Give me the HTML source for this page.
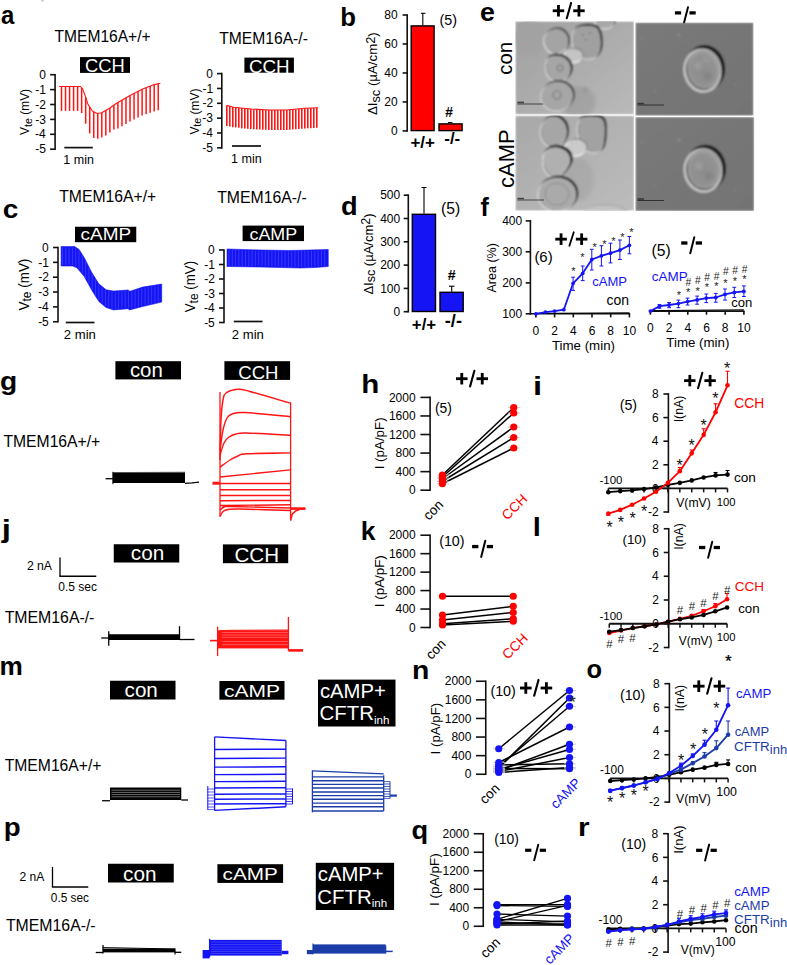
<!DOCTYPE html>
<html><head><meta charset="utf-8"><style>
html,body{margin:0;padding:0;background:#fff;}
svg{display:block;font-family:"Liberation Sans", sans-serif;}
</style></head><body>
<svg width="787" height="965" viewBox="0 0 787 965">
<rect width="787" height="965" fill="#fff"/>
<text x="1.04" y="24.24" font-size="25.00" textLength="13.31" lengthAdjust="spacingAndGlyphs" font-weight="bold" fill="#000">a</text>
<rect x="41.20" y="0.00" width="2.60" height="1.50" fill="#c8c8c8"/>
<text x="54.59" y="41.57" font-size="15.57" textLength="96.07" lengthAdjust="spacingAndGlyphs" fill="#000">TMEM16A+/+</text>
<rect x="80.00" y="57.10" width="50.00" height="15.80" fill="#000"/>
<text x="85.08" y="72.46" font-size="18.36" textLength="39.77" lengthAdjust="spacingAndGlyphs" fill="#fff">CCH</text>
<text x="219.19" y="43.94" font-size="15.65" textLength="88.67" lengthAdjust="spacingAndGlyphs" fill="#000">TMEM16A-/-</text>
<rect x="244.40" y="57.60" width="49.50" height="15.10" fill="#000"/>
<text x="248.96" y="72.91" font-size="18.80" textLength="40.73" lengthAdjust="spacingAndGlyphs" fill="#fff">CCH</text>
<line x1="55.10" y1="73.90" x2="55.10" y2="150.00" stroke="#111" stroke-width="1.6"/>
<line x1="50.10" y1="74.70" x2="55.10" y2="74.70" stroke="#111" stroke-width="1.6"/>
<text x="39.19" y="78.89" font-size="12.00" textLength="6.67" lengthAdjust="spacingAndGlyphs" fill="#000">0</text>
<line x1="50.10" y1="89.60" x2="55.10" y2="89.60" stroke="#111" stroke-width="1.6"/>
<text x="35.32" y="93.79" font-size="12.00" textLength="10.67" lengthAdjust="spacingAndGlyphs" fill="#000">-1</text>
<line x1="50.10" y1="104.50" x2="55.10" y2="104.50" stroke="#111" stroke-width="1.6"/>
<text x="35.32" y="108.69" font-size="12.00" textLength="10.67" lengthAdjust="spacingAndGlyphs" fill="#000">-2</text>
<line x1="50.10" y1="119.40" x2="55.10" y2="119.40" stroke="#111" stroke-width="1.6"/>
<text x="35.26" y="123.59" font-size="12.00" textLength="10.67" lengthAdjust="spacingAndGlyphs" fill="#000">-3</text>
<line x1="50.10" y1="134.30" x2="55.10" y2="134.30" stroke="#111" stroke-width="1.6"/>
<text x="35.08" y="138.49" font-size="12.00" textLength="10.67" lengthAdjust="spacingAndGlyphs" fill="#000">-4</text>
<line x1="50.10" y1="149.20" x2="55.10" y2="149.20" stroke="#111" stroke-width="1.6"/>
<text x="35.23" y="153.38" font-size="12.00" textLength="10.67" lengthAdjust="spacingAndGlyphs" fill="#000">-5</text>
<text transform="translate(29.20,134.90) rotate(-90)" font-size="12.20" fill="#000" textLength="46.00" lengthAdjust="spacingAndGlyphs"><tspan>V</tspan><tspan font-size="10.98" dy="2.60">te</tspan><tspan dy="-2.60"> (mV)</tspan></text>
<line x1="64.30" y1="147.60" x2="92.80" y2="147.60" stroke="#111" stroke-width="1.7"/>
<text x="63.36" y="164.12" font-size="12.48" textLength="30.52" lengthAdjust="spacingAndGlyphs" fill="#000">1 min</text>
<path d="M59.20,86.50 L80.40,86.50 L82.70,89.10 L85.00,95.20 L88.00,104.40 L92.60,111.30 L97.20,113.50 L101.70,112.80 L109.40,108.20 L117.40,102.70 L130.00,95.40 L142.60,89.10 L153.00,84.90 L160.40,83.20" stroke="#ff1414" stroke-width="1.1" fill="none" stroke-linejoin="round"/>
<line x1="61.50" y1="86.50" x2="61.50" y2="110.90" stroke="#ff1414" stroke-width="1.5"/>
<line x1="65.53" y1="86.50" x2="65.53" y2="110.90" stroke="#ff1414" stroke-width="1.5"/>
<line x1="69.56" y1="86.50" x2="69.56" y2="110.90" stroke="#ff1414" stroke-width="1.5"/>
<line x1="73.59" y1="86.50" x2="73.59" y2="110.90" stroke="#ff1414" stroke-width="1.5"/>
<line x1="77.62" y1="86.50" x2="77.62" y2="110.90" stroke="#ff1414" stroke-width="1.5"/>
<line x1="81.65" y1="87.91" x2="81.65" y2="113.05" stroke="#ff1414" stroke-width="1.5"/>
<line x1="85.68" y1="97.29" x2="85.68" y2="123.74" stroke="#ff1414" stroke-width="1.5"/>
<line x1="89.71" y1="106.97" x2="89.71" y2="133.41" stroke="#ff1414" stroke-width="1.5"/>
<line x1="93.74" y1="111.85" x2="93.74" y2="137.91" stroke="#ff1414" stroke-width="1.5"/>
<line x1="97.77" y1="113.41" x2="97.77" y2="138.69" stroke="#ff1414" stroke-width="1.5"/>
<line x1="101.80" y1="112.74" x2="101.80" y2="137.55" stroke="#ff1414" stroke-width="1.5"/>
<line x1="105.83" y1="110.33" x2="105.83" y2="135.60" stroke="#ff1414" stroke-width="1.5"/>
<line x1="109.86" y1="107.88" x2="109.86" y2="132.49" stroke="#ff1414" stroke-width="1.5"/>
<line x1="113.89" y1="105.11" x2="113.89" y2="129.61" stroke="#ff1414" stroke-width="1.5"/>
<line x1="117.92" y1="102.40" x2="117.92" y2="128.60" stroke="#ff1414" stroke-width="1.5"/>
<line x1="121.95" y1="100.06" x2="121.95" y2="126.26" stroke="#ff1414" stroke-width="1.5"/>
<line x1="125.98" y1="97.73" x2="125.98" y2="123.93" stroke="#ff1414" stroke-width="1.5"/>
<line x1="130.01" y1="95.39" x2="130.01" y2="121.59" stroke="#ff1414" stroke-width="1.5"/>
<line x1="134.04" y1="93.38" x2="134.04" y2="119.58" stroke="#ff1414" stroke-width="1.5"/>
<line x1="138.07" y1="91.36" x2="138.07" y2="117.56" stroke="#ff1414" stroke-width="1.5"/>
<line x1="142.10" y1="89.35" x2="142.10" y2="115.55" stroke="#ff1414" stroke-width="1.5"/>
<line x1="146.13" y1="87.67" x2="146.13" y2="114.13" stroke="#ff1414" stroke-width="1.5"/>
<line x1="150.16" y1="86.05" x2="150.16" y2="112.80" stroke="#ff1414" stroke-width="1.5"/>
<line x1="154.19" y1="84.63" x2="154.19" y2="111.46" stroke="#ff1414" stroke-width="1.5"/>
<line x1="158.22" y1="83.70" x2="158.22" y2="110.13" stroke="#ff1414" stroke-width="1.5"/>
<line x1="221.80" y1="72.80" x2="221.80" y2="148.65" stroke="#111" stroke-width="1.6"/>
<line x1="217.00" y1="73.60" x2="221.80" y2="73.60" stroke="#111" stroke-width="1.6"/>
<text x="206.29" y="77.78" font-size="12.00" textLength="6.67" lengthAdjust="spacingAndGlyphs" fill="#000">0</text>
<line x1="217.00" y1="88.45" x2="221.80" y2="88.45" stroke="#111" stroke-width="1.6"/>
<text x="202.42" y="92.63" font-size="12.00" textLength="10.67" lengthAdjust="spacingAndGlyphs" fill="#000">-1</text>
<line x1="217.00" y1="103.30" x2="221.80" y2="103.30" stroke="#111" stroke-width="1.6"/>
<text x="202.42" y="107.48" font-size="12.00" textLength="10.67" lengthAdjust="spacingAndGlyphs" fill="#000">-2</text>
<line x1="217.00" y1="118.15" x2="221.80" y2="118.15" stroke="#111" stroke-width="1.6"/>
<text x="202.36" y="122.33" font-size="12.00" textLength="10.67" lengthAdjust="spacingAndGlyphs" fill="#000">-3</text>
<line x1="217.00" y1="133.00" x2="221.80" y2="133.00" stroke="#111" stroke-width="1.6"/>
<text x="202.18" y="137.19" font-size="12.00" textLength="10.67" lengthAdjust="spacingAndGlyphs" fill="#000">-4</text>
<line x1="217.00" y1="147.85" x2="221.80" y2="147.85" stroke="#111" stroke-width="1.6"/>
<text x="202.33" y="152.03" font-size="12.00" textLength="10.67" lengthAdjust="spacingAndGlyphs" fill="#000">-5</text>
<text transform="translate(198.60,134.60) rotate(-90)" font-size="12.20" fill="#000" textLength="46.00" lengthAdjust="spacingAndGlyphs"><tspan>V</tspan><tspan font-size="10.98" dy="2.60">te</tspan><tspan dy="-2.60"> (mV)</tspan></text>
<line x1="232.00" y1="146.00" x2="261.00" y2="146.00" stroke="#111" stroke-width="1.7"/>
<text x="231.06" y="163.31" font-size="12.57" textLength="30.73" lengthAdjust="spacingAndGlyphs" fill="#000">1 min</text>
<path d="M226.60,105.40 L233.40,107.20 L251.20,109.00 L269.00,110.00 L286.70,110.00 L304.50,108.30 L317.90,107.70" stroke="#ff1414" stroke-width="1.1" fill="none" stroke-linejoin="round"/>
<line x1="226.80" y1="105.45" x2="226.80" y2="126.04" stroke="#ff1414" stroke-width="1.6"/>
<line x1="229.80" y1="106.25" x2="229.80" y2="126.61" stroke="#ff1414" stroke-width="1.6"/>
<line x1="232.80" y1="107.04" x2="232.80" y2="127.19" stroke="#ff1414" stroke-width="1.6"/>
<line x1="235.80" y1="107.44" x2="235.80" y2="127.54" stroke="#ff1414" stroke-width="1.6"/>
<line x1="238.80" y1="107.75" x2="238.80" y2="127.85" stroke="#ff1414" stroke-width="1.6"/>
<line x1="241.80" y1="108.05" x2="241.80" y2="128.15" stroke="#ff1414" stroke-width="1.6"/>
<line x1="244.80" y1="108.35" x2="244.80" y2="128.45" stroke="#ff1414" stroke-width="1.6"/>
<line x1="247.80" y1="108.66" x2="247.80" y2="128.76" stroke="#ff1414" stroke-width="1.6"/>
<line x1="250.80" y1="108.96" x2="250.80" y2="129.06" stroke="#ff1414" stroke-width="1.6"/>
<line x1="253.80" y1="109.15" x2="253.80" y2="129.23" stroke="#ff1414" stroke-width="1.6"/>
<line x1="256.80" y1="109.31" x2="256.80" y2="129.38" stroke="#ff1414" stroke-width="1.6"/>
<line x1="259.80" y1="109.48" x2="259.80" y2="129.53" stroke="#ff1414" stroke-width="1.6"/>
<line x1="262.80" y1="109.65" x2="262.80" y2="129.69" stroke="#ff1414" stroke-width="1.6"/>
<line x1="265.80" y1="109.82" x2="265.80" y2="129.84" stroke="#ff1414" stroke-width="1.6"/>
<line x1="268.80" y1="109.99" x2="268.80" y2="129.99" stroke="#ff1414" stroke-width="1.6"/>
<line x1="271.80" y1="110.00" x2="271.80" y2="130.00" stroke="#ff1414" stroke-width="1.6"/>
<line x1="274.80" y1="110.00" x2="274.80" y2="130.00" stroke="#ff1414" stroke-width="1.6"/>
<line x1="277.80" y1="110.00" x2="277.80" y2="130.00" stroke="#ff1414" stroke-width="1.6"/>
<line x1="280.80" y1="110.00" x2="280.80" y2="130.00" stroke="#ff1414" stroke-width="1.6"/>
<line x1="283.80" y1="110.00" x2="283.80" y2="130.00" stroke="#ff1414" stroke-width="1.6"/>
<line x1="286.80" y1="109.99" x2="286.80" y2="129.99" stroke="#ff1414" stroke-width="1.6"/>
<line x1="289.80" y1="109.70" x2="289.80" y2="129.74" stroke="#ff1414" stroke-width="1.6"/>
<line x1="292.80" y1="109.42" x2="292.80" y2="129.49" stroke="#ff1414" stroke-width="1.6"/>
<line x1="295.80" y1="109.13" x2="295.80" y2="129.23" stroke="#ff1414" stroke-width="1.6"/>
<line x1="298.80" y1="108.84" x2="298.80" y2="128.98" stroke="#ff1414" stroke-width="1.6"/>
<line x1="301.80" y1="108.56" x2="301.80" y2="128.73" stroke="#ff1414" stroke-width="1.6"/>
<line x1="304.80" y1="108.29" x2="304.80" y2="128.48" stroke="#ff1414" stroke-width="1.6"/>
<line x1="307.80" y1="108.15" x2="307.80" y2="128.33" stroke="#ff1414" stroke-width="1.6"/>
<line x1="310.80" y1="108.02" x2="310.80" y2="128.17" stroke="#ff1414" stroke-width="1.6"/>
<line x1="313.80" y1="107.88" x2="313.80" y2="128.01" stroke="#ff1414" stroke-width="1.6"/>
<line x1="316.80" y1="107.75" x2="316.80" y2="127.86" stroke="#ff1414" stroke-width="1.6"/>
<text x="340.33" y="25.56" font-size="25.00" textLength="15.73" lengthAdjust="spacingAndGlyphs" font-weight="bold" fill="#000">b</text>
<line x1="407.20" y1="14.20" x2="407.20" y2="131.72" stroke="#111" stroke-width="1.6"/>
<line x1="402.60" y1="15.00" x2="407.20" y2="15.00" stroke="#111" stroke-width="1.6"/>
<text x="384.33" y="19.19" font-size="12.00" textLength="13.35" lengthAdjust="spacingAndGlyphs" fill="#000">80</text>
<line x1="402.60" y1="43.98" x2="407.20" y2="43.98" stroke="#111" stroke-width="1.6"/>
<text x="384.33" y="48.17" font-size="12.00" textLength="13.35" lengthAdjust="spacingAndGlyphs" fill="#000">60</text>
<line x1="402.60" y1="72.96" x2="407.20" y2="72.96" stroke="#111" stroke-width="1.6"/>
<text x="384.33" y="77.15" font-size="12.00" textLength="13.35" lengthAdjust="spacingAndGlyphs" fill="#000">40</text>
<line x1="402.60" y1="101.94" x2="407.20" y2="101.94" stroke="#111" stroke-width="1.6"/>
<text x="384.33" y="106.12" font-size="12.00" textLength="13.35" lengthAdjust="spacingAndGlyphs" fill="#000">20</text>
<line x1="402.60" y1="130.92" x2="407.20" y2="130.92" stroke="#111" stroke-width="1.6"/>
<text x="390.99" y="135.11" font-size="12.00" textLength="6.67" lengthAdjust="spacingAndGlyphs" fill="#000">0</text>
<text transform="translate(377.30,115.10) rotate(-90)" font-size="13.00" fill="#000" textLength="82.90" lengthAdjust="spacingAndGlyphs"><tspan>ΔI</tspan><tspan font-size="12.60" dy="2.60">sc</tspan><tspan dy="-2.60"> (µA/cm</tspan><tspan font-size="12.60" dy="-2.40">2</tspan><tspan dy="2.40">)</tspan></text>
<line x1="422.80" y1="25.30" x2="422.80" y2="13.30" stroke="#000" stroke-width="1.1"/>
<line x1="420.90" y1="13.30" x2="425.40" y2="13.30" stroke="#000" stroke-width="1.1"/>
<rect x="411.20" y="25.90" width="22.90" height="104.70" fill="#ff0000" stroke="#000" stroke-width="1.4"/>
<rect x="439.00" y="123.90" width="23.10" height="6.70" fill="#ff0000" stroke="#000" stroke-width="1.4"/>
<line x1="447.90" y1="122.60" x2="452.40" y2="122.60" stroke="#000" stroke-width="1.1"/>
<text x="445.19" y="116.96" font-size="13.84" textLength="7.70" lengthAdjust="spacingAndGlyphs" font-weight="bold" fill="#000">#</text>
<text x="439.54" y="24.61" font-size="14.33" textLength="17.52" lengthAdjust="spacingAndGlyphs" fill="#000">(5)</text>
<text x="410.42" y="148.00" font-size="16.89" textLength="24.42" lengthAdjust="spacingAndGlyphs" font-weight="bold" fill="#000">+/+</text>
<text x="444.26" y="144.02" font-size="16.95" textLength="15.99" lengthAdjust="spacingAndGlyphs" font-weight="bold" fill="#000">-/-</text>
<text x="2.70" y="217.84" font-size="25.00" textLength="15.61" lengthAdjust="spacingAndGlyphs" font-weight="bold" fill="#000">c</text>
<text x="59.19" y="202.13" font-size="15.74" textLength="97.09" lengthAdjust="spacingAndGlyphs" fill="#000">TMEM16A+/+</text>
<rect x="75.00" y="226.75" width="61.25" height="15.45" fill="#000"/>
<text x="80.59" y="239.89" font-size="16.80" textLength="50.59" lengthAdjust="spacingAndGlyphs" fill="#fff">cAMP</text>
<line x1="58.00" y1="246.70" x2="58.00" y2="322.55" stroke="#111" stroke-width="1.6"/>
<line x1="53.00" y1="247.50" x2="58.00" y2="247.50" stroke="#111" stroke-width="1.6"/>
<text x="42.09" y="251.69" font-size="12.00" textLength="6.67" lengthAdjust="spacingAndGlyphs" fill="#000">0</text>
<line x1="53.00" y1="262.35" x2="58.00" y2="262.35" stroke="#111" stroke-width="1.6"/>
<text x="38.22" y="266.54" font-size="12.00" textLength="10.67" lengthAdjust="spacingAndGlyphs" fill="#000">-1</text>
<line x1="53.00" y1="277.20" x2="58.00" y2="277.20" stroke="#111" stroke-width="1.6"/>
<text x="38.22" y="281.38" font-size="12.00" textLength="10.67" lengthAdjust="spacingAndGlyphs" fill="#000">-2</text>
<line x1="53.00" y1="292.05" x2="58.00" y2="292.05" stroke="#111" stroke-width="1.6"/>
<text x="38.16" y="296.24" font-size="12.00" textLength="10.67" lengthAdjust="spacingAndGlyphs" fill="#000">-3</text>
<line x1="53.00" y1="306.90" x2="58.00" y2="306.90" stroke="#111" stroke-width="1.6"/>
<text x="37.98" y="311.08" font-size="12.00" textLength="10.67" lengthAdjust="spacingAndGlyphs" fill="#000">-4</text>
<line x1="53.00" y1="321.75" x2="58.00" y2="321.75" stroke="#111" stroke-width="1.6"/>
<text x="38.13" y="325.94" font-size="12.00" textLength="10.67" lengthAdjust="spacingAndGlyphs" fill="#000">-5</text>
<text transform="translate(28.50,310.50) rotate(-90)" font-size="14.00" fill="#000" textLength="51.80" lengthAdjust="spacingAndGlyphs"><tspan>V</tspan><tspan font-size="12.60" dy="2.98">te</tspan><tspan dy="-2.98"> (mV)</tspan></text>
<line x1="65.75" y1="322.50" x2="94.50" y2="322.50" stroke="#111" stroke-width="1.7"/>
<text x="63.85" y="339.49" font-size="13.08" textLength="31.98" lengthAdjust="spacingAndGlyphs" fill="#000">2 min</text>
<path d="M61.10,246.60 L74.70,246.60 L79.10,249.50 L84.20,257.50 L91.50,272.10 L98.80,283.80 L106.10,289.70 L113.50,291.10 L128.10,290.00 L129.50,291.10 L131.00,290.90 L142.70,287.10 L161.70,284.10 L161.70,302.10 L142.70,306.50 L129.50,309.90 L128.10,308.70 L113.50,309.90 L106.10,307.50 L98.80,301.40 L91.50,289.70 L84.20,276.50 L76.90,267.80 L72.50,266.00 L61.10,266.00 Z" stroke="#1414f5" stroke-width="0.6" fill="#1414f5" stroke-linejoin="round"/>
<line x1="62.50" y1="247.40" x2="62.50" y2="265.20" stroke="#5a5aff" stroke-width="0.5"/>
<line x1="65.80" y1="247.40" x2="65.80" y2="265.20" stroke="#5a5aff" stroke-width="0.5"/>
<line x1="69.10" y1="247.40" x2="69.10" y2="265.20" stroke="#5a5aff" stroke-width="0.5"/>
<line x1="72.40" y1="247.40" x2="72.40" y2="265.20" stroke="#5a5aff" stroke-width="0.5"/>
<line x1="75.70" y1="248.06" x2="75.70" y2="266.51" stroke="#5a5aff" stroke-width="0.5"/>
<line x1="79.00" y1="250.23" x2="79.00" y2="269.50" stroke="#5a5aff" stroke-width="0.5"/>
<line x1="82.30" y1="255.32" x2="82.30" y2="273.44" stroke="#5a5aff" stroke-width="0.5"/>
<line x1="85.60" y1="261.10" x2="85.60" y2="278.23" stroke="#5a5aff" stroke-width="0.5"/>
<line x1="88.90" y1="267.70" x2="88.90" y2="284.20" stroke="#5a5aff" stroke-width="0.5"/>
<line x1="92.20" y1="274.02" x2="92.20" y2="290.02" stroke="#5a5aff" stroke-width="0.5"/>
<line x1="95.50" y1="279.31" x2="95.50" y2="295.31" stroke="#5a5aff" stroke-width="0.5"/>
<line x1="98.80" y1="284.60" x2="98.80" y2="300.60" stroke="#5a5aff" stroke-width="0.5"/>
<line x1="102.10" y1="287.27" x2="102.10" y2="303.36" stroke="#5a5aff" stroke-width="0.5"/>
<line x1="105.40" y1="289.93" x2="105.40" y2="306.12" stroke="#5a5aff" stroke-width="0.5"/>
<line x1="108.70" y1="290.99" x2="108.70" y2="307.54" stroke="#5a5aff" stroke-width="0.5"/>
<line x1="112.00" y1="291.62" x2="112.00" y2="308.61" stroke="#5a5aff" stroke-width="0.5"/>
<line x1="115.30" y1="291.76" x2="115.30" y2="308.95" stroke="#5a5aff" stroke-width="0.5"/>
<line x1="118.60" y1="291.52" x2="118.60" y2="308.68" stroke="#5a5aff" stroke-width="0.5"/>
<line x1="121.90" y1="291.27" x2="121.90" y2="308.41" stroke="#5a5aff" stroke-width="0.5"/>
<line x1="125.20" y1="291.02" x2="125.20" y2="308.14" stroke="#5a5aff" stroke-width="0.5"/>
<line x1="128.50" y1="291.11" x2="128.50" y2="308.24" stroke="#5a5aff" stroke-width="0.5"/>
<line x1="131.80" y1="291.44" x2="131.80" y2="308.51" stroke="#5a5aff" stroke-width="0.5"/>
<line x1="135.10" y1="290.37" x2="135.10" y2="307.66" stroke="#5a5aff" stroke-width="0.5"/>
<line x1="138.40" y1="289.30" x2="138.40" y2="306.81" stroke="#5a5aff" stroke-width="0.5"/>
<line x1="141.70" y1="288.22" x2="141.70" y2="305.96" stroke="#5a5aff" stroke-width="0.5"/>
<line x1="145.00" y1="287.54" x2="145.00" y2="305.17" stroke="#5a5aff" stroke-width="0.5"/>
<line x1="148.30" y1="287.02" x2="148.30" y2="304.40" stroke="#5a5aff" stroke-width="0.5"/>
<line x1="151.60" y1="286.49" x2="151.60" y2="303.64" stroke="#5a5aff" stroke-width="0.5"/>
<line x1="154.90" y1="285.97" x2="154.90" y2="302.87" stroke="#5a5aff" stroke-width="0.5"/>
<line x1="158.20" y1="285.45" x2="158.20" y2="302.11" stroke="#5a5aff" stroke-width="0.5"/>
<text x="217.18" y="202.89" font-size="15.79" textLength="89.48" lengthAdjust="spacingAndGlyphs" fill="#000">TMEM16A-/-</text>
<rect x="242.60" y="225.60" width="61.40" height="15.50" fill="#000"/>
<text x="249.44" y="239.89" font-size="16.80" textLength="47.69" lengthAdjust="spacingAndGlyphs" fill="#fff">cAMP</text>
<line x1="224.00" y1="249.20" x2="224.00" y2="323.30" stroke="#111" stroke-width="1.6"/>
<line x1="219.00" y1="250.00" x2="224.00" y2="250.00" stroke="#111" stroke-width="1.6"/>
<text x="208.09" y="254.19" font-size="12.00" textLength="6.67" lengthAdjust="spacingAndGlyphs" fill="#000">0</text>
<line x1="219.00" y1="264.50" x2="224.00" y2="264.50" stroke="#111" stroke-width="1.6"/>
<text x="204.22" y="268.69" font-size="12.00" textLength="10.67" lengthAdjust="spacingAndGlyphs" fill="#000">-1</text>
<line x1="219.00" y1="279.00" x2="224.00" y2="279.00" stroke="#111" stroke-width="1.6"/>
<text x="204.22" y="283.19" font-size="12.00" textLength="10.67" lengthAdjust="spacingAndGlyphs" fill="#000">-2</text>
<line x1="219.00" y1="293.50" x2="224.00" y2="293.50" stroke="#111" stroke-width="1.6"/>
<text x="204.16" y="297.69" font-size="12.00" textLength="10.67" lengthAdjust="spacingAndGlyphs" fill="#000">-3</text>
<line x1="219.00" y1="308.00" x2="224.00" y2="308.00" stroke="#111" stroke-width="1.6"/>
<text x="203.98" y="312.19" font-size="12.00" textLength="10.67" lengthAdjust="spacingAndGlyphs" fill="#000">-4</text>
<line x1="219.00" y1="322.50" x2="224.00" y2="322.50" stroke="#111" stroke-width="1.6"/>
<text x="204.13" y="326.69" font-size="12.00" textLength="10.67" lengthAdjust="spacingAndGlyphs" fill="#000">-5</text>
<text transform="translate(195.00,312.30) rotate(-90)" font-size="14.00" fill="#000" textLength="51.40" lengthAdjust="spacingAndGlyphs"><tspan>V</tspan><tspan font-size="12.60" dy="2.98">te</tspan><tspan dy="-2.98"> (mV)</tspan></text>
<line x1="233.75" y1="321.50" x2="262.50" y2="321.50" stroke="#111" stroke-width="1.7"/>
<text x="231.85" y="339.12" font-size="13.08" textLength="31.98" lengthAdjust="spacingAndGlyphs" fill="#000">2 min</text>
<path d="M227.00,249.00 L260.00,250.00 L290.00,250.50 L310.00,250.00 L328.25,249.50 L328.25,266.50 L315.00,267.50 L300.00,268.00 L280.00,267.50 L260.00,267.00 L227.00,266.50 Z" stroke="#1414f5" stroke-width="0.6" fill="#1414f5" stroke-linejoin="round"/>
<line x1="229.00" y1="249.86" x2="229.00" y2="265.73" stroke="#5a5aff" stroke-width="0.5"/>
<line x1="232.30" y1="249.96" x2="232.30" y2="265.78" stroke="#5a5aff" stroke-width="0.5"/>
<line x1="235.60" y1="250.06" x2="235.60" y2="265.83" stroke="#5a5aff" stroke-width="0.5"/>
<line x1="238.90" y1="250.16" x2="238.90" y2="265.88" stroke="#5a5aff" stroke-width="0.5"/>
<line x1="242.20" y1="250.26" x2="242.20" y2="265.93" stroke="#5a5aff" stroke-width="0.5"/>
<line x1="245.50" y1="250.36" x2="245.50" y2="265.98" stroke="#5a5aff" stroke-width="0.5"/>
<line x1="248.80" y1="250.46" x2="248.80" y2="266.03" stroke="#5a5aff" stroke-width="0.5"/>
<line x1="252.10" y1="250.56" x2="252.10" y2="266.08" stroke="#5a5aff" stroke-width="0.5"/>
<line x1="255.40" y1="250.66" x2="255.40" y2="266.13" stroke="#5a5aff" stroke-width="0.5"/>
<line x1="258.70" y1="250.76" x2="258.70" y2="266.18" stroke="#5a5aff" stroke-width="0.5"/>
<line x1="262.00" y1="250.83" x2="262.00" y2="266.25" stroke="#5a5aff" stroke-width="0.5"/>
<line x1="265.30" y1="250.89" x2="265.30" y2="266.33" stroke="#5a5aff" stroke-width="0.5"/>
<line x1="268.60" y1="250.94" x2="268.60" y2="266.42" stroke="#5a5aff" stroke-width="0.5"/>
<line x1="271.90" y1="251.00" x2="271.90" y2="266.50" stroke="#5a5aff" stroke-width="0.5"/>
<line x1="275.20" y1="251.05" x2="275.20" y2="266.58" stroke="#5a5aff" stroke-width="0.5"/>
<line x1="278.50" y1="251.11" x2="278.50" y2="266.66" stroke="#5a5aff" stroke-width="0.5"/>
<line x1="281.80" y1="251.16" x2="281.80" y2="266.75" stroke="#5a5aff" stroke-width="0.5"/>
<line x1="285.10" y1="251.22" x2="285.10" y2="266.83" stroke="#5a5aff" stroke-width="0.5"/>
<line x1="288.40" y1="251.27" x2="288.40" y2="266.91" stroke="#5a5aff" stroke-width="0.5"/>
<line x1="291.70" y1="251.26" x2="291.70" y2="266.99" stroke="#5a5aff" stroke-width="0.5"/>
<line x1="295.00" y1="251.18" x2="295.00" y2="267.07" stroke="#5a5aff" stroke-width="0.5"/>
<line x1="298.30" y1="251.09" x2="298.30" y2="267.16" stroke="#5a5aff" stroke-width="0.5"/>
<line x1="301.60" y1="251.01" x2="301.60" y2="267.15" stroke="#5a5aff" stroke-width="0.5"/>
<line x1="304.90" y1="250.93" x2="304.90" y2="267.04" stroke="#5a5aff" stroke-width="0.5"/>
<line x1="308.20" y1="250.84" x2="308.20" y2="266.93" stroke="#5a5aff" stroke-width="0.5"/>
<line x1="311.50" y1="250.76" x2="311.50" y2="266.82" stroke="#5a5aff" stroke-width="0.5"/>
<line x1="314.80" y1="250.67" x2="314.80" y2="266.71" stroke="#5a5aff" stroke-width="0.5"/>
<line x1="318.10" y1="250.58" x2="318.10" y2="266.47" stroke="#5a5aff" stroke-width="0.5"/>
<line x1="321.40" y1="250.49" x2="321.40" y2="266.22" stroke="#5a5aff" stroke-width="0.5"/>
<line x1="324.70" y1="250.40" x2="324.70" y2="265.97" stroke="#5a5aff" stroke-width="0.5"/>
<text x="340.91" y="215.19" font-size="25.00" textLength="16.63" lengthAdjust="spacingAndGlyphs" font-weight="bold" fill="#000">d</text>
<line x1="408.30" y1="194.40" x2="408.30" y2="312.50" stroke="#111" stroke-width="1.6"/>
<line x1="403.70" y1="195.20" x2="408.30" y2="195.20" stroke="#111" stroke-width="1.6"/>
<text x="380.14" y="199.38" font-size="12.00" textLength="20.02" lengthAdjust="spacingAndGlyphs" fill="#000">500</text>
<line x1="403.70" y1="218.50" x2="408.30" y2="218.50" stroke="#111" stroke-width="1.6"/>
<text x="380.14" y="222.69" font-size="12.00" textLength="20.02" lengthAdjust="spacingAndGlyphs" fill="#000">400</text>
<line x1="403.70" y1="241.80" x2="408.30" y2="241.80" stroke="#111" stroke-width="1.6"/>
<text x="380.14" y="245.98" font-size="12.00" textLength="20.02" lengthAdjust="spacingAndGlyphs" fill="#000">300</text>
<line x1="403.70" y1="265.10" x2="408.30" y2="265.10" stroke="#111" stroke-width="1.6"/>
<text x="380.14" y="269.29" font-size="12.00" textLength="20.02" lengthAdjust="spacingAndGlyphs" fill="#000">200</text>
<line x1="403.70" y1="288.40" x2="408.30" y2="288.40" stroke="#111" stroke-width="1.6"/>
<text x="380.14" y="292.58" font-size="12.00" textLength="20.02" lengthAdjust="spacingAndGlyphs" fill="#000">100</text>
<line x1="403.70" y1="311.70" x2="408.30" y2="311.70" stroke="#111" stroke-width="1.6"/>
<text x="393.49" y="315.88" font-size="12.00" textLength="6.67" lengthAdjust="spacingAndGlyphs" fill="#000">0</text>
<text transform="translate(372.80,294.60) rotate(-90)" font-size="13.00" fill="#000" textLength="81.20" lengthAdjust="spacingAndGlyphs"><tspan>ΔI</tspan><tspan font-size="12.60" dy="2.60">sc</tspan><tspan dy="-2.60"> (µA/cm</tspan><tspan font-size="12.60" dy="-2.40">2</tspan><tspan dy="2.40">)</tspan></text>
<line x1="424.00" y1="213.75" x2="424.00" y2="187.50" stroke="#000" stroke-width="1.1"/>
<line x1="421.50" y1="187.50" x2="426.50" y2="187.50" stroke="#000" stroke-width="1.1"/>
<rect x="412.30" y="214.30" width="23.20" height="97.20" fill="#1414f5" stroke="#000" stroke-width="1.4"/>
<line x1="451.70" y1="291.75" x2="451.70" y2="286.25" stroke="#000" stroke-width="1.1"/>
<line x1="449.00" y1="286.25" x2="454.50" y2="286.25" stroke="#000" stroke-width="1.1"/>
<rect x="440.00" y="292.30" width="23.20" height="19.20" fill="#1414f5" stroke="#000" stroke-width="1.4"/>
<text x="447.79" y="280.33" font-size="14.22" textLength="7.91" lengthAdjust="spacingAndGlyphs" font-weight="bold" fill="#000">#</text>
<text x="441.06" y="214.17" font-size="15.65" textLength="19.12" lengthAdjust="spacingAndGlyphs" fill="#000">(5)</text>
<text x="411.83" y="330.05" font-size="16.82" textLength="24.32" lengthAdjust="spacingAndGlyphs" font-weight="bold" fill="#000">+/+</text>
<text x="444.82" y="326.90" font-size="18.16" textLength="17.14" lengthAdjust="spacingAndGlyphs" font-weight="bold" fill="#000">-/-</text>
<text x="479.99" y="21.09" font-size="25.00" textLength="14.91" lengthAdjust="spacingAndGlyphs" font-weight="bold" fill="#000">e</text>
<rect x="552.70" y="9.35" width="11.52" height="2.82" fill="#000"/>
<rect x="557.05" y="5.01" width="2.82" height="11.52" fill="#000"/>
<rect x="573.18" y="9.35" width="11.52" height="2.82" fill="#000"/>
<rect x="577.53" y="5.01" width="2.82" height="11.52" fill="#000"/>
<line x1="571.10" y1="2.92" x2="566.78" y2="18.28" stroke="#000" stroke-width="2.0749999999999997" stroke-linecap="round"/>
<rect x="674.90" y="11.28" width="6.24" height="3.23" fill="#000"/>
<rect x="689.46" y="11.28" width="6.24" height="3.23" fill="#000"/>
<line x1="688.00" y1="7.19" x2="683.95" y2="23.01" stroke="#000" stroke-width="1.955" stroke-linecap="round"/>
<text transform="rotate(-90)" x="-74.66" y="511.96" font-size="20.33" textLength="32.78" lengthAdjust="spacingAndGlyphs" fill="#000">con</text>
<text transform="rotate(-90)" x="-187.93" y="513.58" font-size="21.92" textLength="58.47" lengthAdjust="spacingAndGlyphs" fill="#000">cAMP</text>
<defs>
<filter id="bl" x="-5%" y="-5%" width="110%" height="110%"><feGaussianBlur stdDeviation="0.9"/></filter>
<filter id="bl6" x="-5%" y="-5%" width="110%" height="110%"><feGaussianBlur stdDeviation="0.6"/></filter>
<filter id="bl2" x="-20%" y="-20%" width="140%" height="140%"><feGaussianBlur stdDeviation="1.6"/></filter>
<linearGradient id="gL1" x1="0" y1="0" x2="1" y2="1"><stop offset="0" stop-color="#a0a0a0"/><stop offset="0.5" stop-color="#acacac"/><stop offset="1" stop-color="#bababa"/></linearGradient>
<linearGradient id="gL2" x1="0" y1="0" x2="1" y2="1"><stop offset="0" stop-color="#a8a8a8"/><stop offset="0.5" stop-color="#b2b2b2"/><stop offset="1" stop-color="#bcbcbc"/></linearGradient>
<linearGradient id="gR" x1="0" y1="0" x2="1" y2="1"><stop offset="0" stop-color="#7a7a7a"/><stop offset="1" stop-color="#737373"/></linearGradient>
<radialGradient id="cellR" cx="0.45" cy="0.55" r="0.6"><stop offset="0" stop-color="#8c8c8c"/><stop offset="0.8" stop-color="#939393"/><stop offset="1" stop-color="#a4a4a4"/></radialGradient>
<clipPath id="cTL"><rect x="515.3" y="21.3" width="118.7" height="93.3"/></clipPath>
<clipPath id="cTR"><rect x="635.3" y="22.4" width="118.3" height="93.4"/></clipPath>
<clipPath id="cBL"><rect x="515.3" y="115.6" width="118.9" height="95.2"/></clipPath>
<clipPath id="cBR"><rect x="635.3" y="116.9" width="118.9" height="94.2"/></clipPath>
</defs>
<g clip-path="url(#cTL)"><g filter="url(#bl)">
<rect x="515.30" y="21.30" width="118.70" height="93.30" fill="url(#gL1)"/>
<ellipse cx="578" cy="102" rx="18" ry="16" fill="#929292" filter="url(#bl2)" opacity="0.45"/>
<ellipse cx="530" cy="38" rx="16" ry="18" fill="#a2a2a2" filter="url(#bl2)" opacity="0.7"/>
<path d="M614.0,22.5 C614.0,23.3 613.7,24.2 613.1,24.9 C612.5,25.6 611.6,26.3 610.6,26.8 C609.6,27.3 608.3,27.7 607.0,27.9 C605.7,28.0 604.3,28.0 603.0,27.9 C601.7,27.7 600.4,27.3 599.4,26.8 C598.4,26.3 597.5,25.6 596.9,24.9 C596.3,24.2 596.0,23.3 596.0,22.5 C596.0,21.7 596.3,20.8 596.9,20.1 C597.5,19.4 598.4,18.7 599.4,18.2 C600.4,17.7 601.7,17.3 603.0,17.1 C604.3,17.0 605.7,17.0 607.0,17.1 C608.3,17.3 609.6,17.7 610.6,18.2 C611.6,18.7 612.5,19.4 613.1,20.1 C613.7,20.8 614.0,21.7 614.0,22.5 Z" transform="translate(0.9,-0.9)" fill="none" stroke="#666" stroke-width="1.4"/>
<path d="M614.0,22.5 C614.0,23.3 613.7,24.2 613.1,24.9 C612.5,25.6 611.6,26.3 610.6,26.8 C609.6,27.3 608.3,27.7 607.0,27.9 C605.7,28.0 604.3,28.0 603.0,27.9 C601.7,27.7 600.4,27.3 599.4,26.8 C598.4,26.3 597.5,25.6 596.9,24.9 C596.3,24.2 596.0,23.3 596.0,22.5 C596.0,21.7 596.3,20.8 596.9,20.1 C597.5,19.4 598.4,18.7 599.4,18.2 C600.4,17.7 601.7,17.3 603.0,17.1 C604.3,17.0 605.7,17.0 607.0,17.1 C608.3,17.3 609.6,17.7 610.6,18.2 C611.6,18.7 612.5,19.4 613.1,20.1 C613.7,20.8 614.0,21.7 614.0,22.5 Z" transform="translate(-0.9,0.9)" fill="none" stroke="#e0e0e0" stroke-width="1.4"/>
<path d="M614.0,22.5 C614.0,23.3 613.7,24.2 613.1,24.9 C612.5,25.6 611.6,26.3 610.6,26.8 C609.6,27.3 608.3,27.7 607.0,27.9 C605.7,28.0 604.3,28.0 603.0,27.9 C601.7,27.7 600.4,27.3 599.4,26.8 C598.4,26.3 597.5,25.6 596.9,24.9 C596.3,24.2 596.0,23.3 596.0,22.5 C596.0,21.7 596.3,20.8 596.9,20.1 C597.5,19.4 598.4,18.7 599.4,18.2 C600.4,17.7 601.7,17.3 603.0,17.1 C604.3,17.0 605.7,17.0 607.0,17.1 C608.3,17.3 609.6,17.7 610.6,18.2 C611.6,18.7 612.5,19.4 613.1,20.1 C613.7,20.8 614.0,21.7 614.0,22.5 Z" fill="#a8a8a8"/>
<path d="M568.2,41.0 C568.2,42.7 568.0,44.7 567.2,46.2 C566.5,47.7 565.0,49.0 563.6,50.0 C562.2,51.1 560.7,52.0 559.0,52.5 C557.4,53.0 555.4,53.2 553.7,52.8 C552.0,52.5 550.3,51.4 549.0,50.2 C547.8,49.1 546.8,47.5 546.1,46.0 C545.3,44.4 544.7,42.7 544.6,41.0 C544.5,39.3 544.8,37.3 545.6,35.8 C546.3,34.2 547.7,32.8 549.0,31.8 C550.4,30.8 552.2,30.1 553.8,29.7 C555.5,29.3 557.4,29.0 559.1,29.4 C560.7,29.7 562.4,30.7 563.8,31.8 C565.1,32.9 566.3,34.3 567.0,35.9 C567.8,37.4 568.2,39.3 568.2,41.0 Z" transform="translate(0.9,-0.9)" fill="none" stroke="#3a3a3a" stroke-width="2.0"/>
<path d="M568.2,41.0 C568.2,42.7 568.0,44.7 567.2,46.2 C566.5,47.7 565.0,49.0 563.6,50.0 C562.2,51.1 560.7,52.0 559.0,52.5 C557.4,53.0 555.4,53.2 553.7,52.8 C552.0,52.5 550.3,51.4 549.0,50.2 C547.8,49.1 546.8,47.5 546.1,46.0 C545.3,44.4 544.7,42.7 544.6,41.0 C544.5,39.3 544.8,37.3 545.6,35.8 C546.3,34.2 547.7,32.8 549.0,31.8 C550.4,30.8 552.2,30.1 553.8,29.7 C555.5,29.3 557.4,29.0 559.1,29.4 C560.7,29.7 562.4,30.7 563.8,31.8 C565.1,32.9 566.3,34.3 567.0,35.9 C567.8,37.4 568.2,39.3 568.2,41.0 Z" transform="translate(-0.9,0.9)" fill="none" stroke="#d8d8d8" stroke-width="1.5"/>
<path d="M568.2,41.0 C568.2,42.7 568.0,44.7 567.2,46.2 C566.5,47.7 565.0,49.0 563.6,50.0 C562.2,51.1 560.7,52.0 559.0,52.5 C557.4,53.0 555.4,53.2 553.7,52.8 C552.0,52.5 550.3,51.4 549.0,50.2 C547.8,49.1 546.8,47.5 546.1,46.0 C545.3,44.4 544.7,42.7 544.6,41.0 C544.5,39.3 544.8,37.3 545.6,35.8 C546.3,34.2 547.7,32.8 549.0,31.8 C550.4,30.8 552.2,30.1 553.8,29.7 C555.5,29.3 557.4,29.0 559.1,29.4 C560.7,29.7 562.4,30.7 563.8,31.8 C565.1,32.9 566.3,34.3 567.0,35.9 C567.8,37.4 568.2,39.3 568.2,41.0 Z" fill="#a4a4a4"/>
<path d="M575.0,30.0 C577.0,26.8 582.3,26.2 586.0,26.0 C589.7,25.8 594.6,26.2 597.0,28.5 C599.4,30.8 600.2,36.1 600.5,40.0 C600.8,43.9 600.4,49.0 599.0,52.0 C597.6,55.0 595.2,57.5 592.0,58.0 C588.8,58.5 583.0,57.2 580.0,55.0 C577.0,52.8 574.8,49.2 574.0,45.0 C573.2,40.8 573.0,33.2 575.0,30.0 Z" transform="translate(0.9,-0.9)" fill="none" stroke="#1e1e1e" stroke-width="2.6"/>
<path d="M575.0,30.0 C577.0,26.8 582.3,26.2 586.0,26.0 C589.7,25.8 594.6,26.2 597.0,28.5 C599.4,30.8 600.2,36.1 600.5,40.0 C600.8,43.9 600.4,49.0 599.0,52.0 C597.6,55.0 595.2,57.5 592.0,58.0 C588.8,58.5 583.0,57.2 580.0,55.0 C577.0,52.8 574.8,49.2 574.0,45.0 C573.2,40.8 573.0,33.2 575.0,30.0 Z" transform="translate(-0.9,0.9)" fill="none" stroke="#d0d0d0" stroke-width="1.6"/>
<path d="M575.0,30.0 C577.0,26.8 582.3,26.2 586.0,26.0 C589.7,25.8 594.6,26.2 597.0,28.5 C599.4,30.8 600.2,36.1 600.5,40.0 C600.8,43.9 600.4,49.0 599.0,52.0 C597.6,55.0 595.2,57.5 592.0,58.0 C588.8,58.5 583.0,57.2 580.0,55.0 C577.0,52.8 574.8,49.2 574.0,45.0 C573.2,40.8 573.0,33.2 575.0,30.0 Z" fill="#a0a0a0"/>
<path d="M582.3,55.5 C582.3,56.4 582.0,57.4 581.4,58.2 C580.9,59.0 580.0,59.8 579.0,60.3 C578.0,60.9 576.7,61.3 575.5,61.5 C574.2,61.7 572.8,61.7 571.5,61.5 C570.3,61.3 569.0,60.9 568.0,60.3 C567.0,59.8 566.1,59.0 565.6,58.2 C565.0,57.4 564.7,56.4 564.7,55.5 C564.7,54.6 565.0,53.6 565.6,52.8 C566.1,52.0 567.0,51.2 568.0,50.7 C569.0,50.1 570.3,49.7 571.5,49.5 C572.8,49.3 574.2,49.3 575.5,49.5 C576.7,49.7 578.0,50.1 579.0,50.7 C580.0,51.2 580.9,52.0 581.4,52.8 C582.0,53.6 582.3,54.6 582.3,55.5 Z" transform="translate(0.9,-0.9)" fill="none" stroke="#8a8a8a" stroke-width="1.6"/>
<path d="M582.3,55.5 C582.3,56.4 582.0,57.4 581.4,58.2 C580.9,59.0 580.0,59.8 579.0,60.3 C578.0,60.9 576.7,61.3 575.5,61.5 C574.2,61.7 572.8,61.7 571.5,61.5 C570.3,61.3 569.0,60.9 568.0,60.3 C567.0,59.8 566.1,59.0 565.6,58.2 C565.0,57.4 564.7,56.4 564.7,55.5 C564.7,54.6 565.0,53.6 565.6,52.8 C566.1,52.0 567.0,51.2 568.0,50.7 C569.0,50.1 570.3,49.7 571.5,49.5 C572.8,49.3 574.2,49.3 575.5,49.5 C576.7,49.7 578.0,50.1 579.0,50.7 C580.0,51.2 580.9,52.0 581.4,52.8 C582.0,53.6 582.3,54.6 582.3,55.5 Z" transform="translate(-0.9,0.9)" fill="none" stroke="#f6f6f6" stroke-width="1.6"/>
<path d="M582.3,55.5 C582.3,56.4 582.0,57.4 581.4,58.2 C580.9,59.0 580.0,59.8 579.0,60.3 C578.0,60.9 576.7,61.3 575.5,61.5 C574.2,61.7 572.8,61.7 571.5,61.5 C570.3,61.3 569.0,60.9 568.0,60.3 C567.0,59.8 566.1,59.0 565.6,58.2 C565.0,57.4 564.7,56.4 564.7,55.5 C564.7,54.6 565.0,53.6 565.6,52.8 C566.1,52.0 567.0,51.2 568.0,50.7 C569.0,50.1 570.3,49.7 571.5,49.5 C572.8,49.3 574.2,49.3 575.5,49.5 C576.7,49.7 578.0,50.1 579.0,50.7 C580.0,51.2 580.9,52.0 581.4,52.8 C582.0,53.6 582.3,54.6 582.3,55.5 Z" fill="#c4c4c4"/>
<path d="M549.0,58.0 C550.8,56.0 554.2,55.6 557.0,55.8 C559.8,56.0 563.8,57.1 566.0,59.0 C568.2,60.9 570.2,64.2 570.5,67.0 C570.8,69.8 569.8,73.8 568.0,76.0 C566.2,78.2 562.8,79.7 560.0,80.0 C557.2,80.3 553.2,80.0 551.0,78.0 C548.8,76.0 546.8,71.3 546.5,68.0 C546.2,64.7 547.2,60.0 549.0,58.0 Z" transform="translate(0.9,-0.9)" fill="none" stroke="#1a1a1a" stroke-width="2.5"/>
<path d="M549.0,58.0 C550.8,56.0 554.2,55.6 557.0,55.8 C559.8,56.0 563.8,57.1 566.0,59.0 C568.2,60.9 570.2,64.2 570.5,67.0 C570.8,69.8 569.8,73.8 568.0,76.0 C566.2,78.2 562.8,79.7 560.0,80.0 C557.2,80.3 553.2,80.0 551.0,78.0 C548.8,76.0 546.8,71.3 546.5,68.0 C546.2,64.7 547.2,60.0 549.0,58.0 Z" transform="translate(-0.9,0.9)" fill="none" stroke="#d4d4d4" stroke-width="1.5"/>
<path d="M549.0,58.0 C550.8,56.0 554.2,55.6 557.0,55.8 C559.8,56.0 563.8,57.1 566.0,59.0 C568.2,60.9 570.2,64.2 570.5,67.0 C570.8,69.8 569.8,73.8 568.0,76.0 C566.2,78.2 562.8,79.7 560.0,80.0 C557.2,80.3 553.2,80.0 551.0,78.0 C548.8,76.0 546.8,71.3 546.5,68.0 C546.2,64.7 547.2,60.0 549.0,58.0 Z" fill="#a6a6a6"/>
<path d="M572.7,93.3 C573.0,95.3 572.8,97.6 572.2,99.5 C571.5,101.5 570.3,103.5 568.8,105.1 C567.3,106.6 565.2,108.0 563.1,108.8 C561.0,109.7 558.5,110.1 556.3,110.0 C554.0,110.0 551.6,109.4 549.6,108.5 C547.7,107.5 545.8,106.0 544.5,104.4 C543.2,102.8 542.3,100.7 541.9,98.7 C541.6,96.7 541.8,94.4 542.4,92.5 C543.1,90.5 544.3,88.5 545.8,86.9 C547.3,85.4 549.4,84.0 551.5,83.2 C553.6,82.3 556.1,81.9 558.3,82.0 C560.6,82.0 563.0,82.6 565.0,83.5 C566.9,84.5 568.8,86.0 570.1,87.6 C571.4,89.2 572.3,91.3 572.7,93.3 Z" transform="translate(0.9,-0.9)" fill="none" stroke="#303030" stroke-width="2.2"/>
<path d="M572.7,93.3 C573.0,95.3 572.8,97.6 572.2,99.5 C571.5,101.5 570.3,103.5 568.8,105.1 C567.3,106.6 565.2,108.0 563.1,108.8 C561.0,109.7 558.5,110.1 556.3,110.0 C554.0,110.0 551.6,109.4 549.6,108.5 C547.7,107.5 545.8,106.0 544.5,104.4 C543.2,102.8 542.3,100.7 541.9,98.7 C541.6,96.7 541.8,94.4 542.4,92.5 C543.1,90.5 544.3,88.5 545.8,86.9 C547.3,85.4 549.4,84.0 551.5,83.2 C553.6,82.3 556.1,81.9 558.3,82.0 C560.6,82.0 563.0,82.6 565.0,83.5 C566.9,84.5 568.8,86.0 570.1,87.6 C571.4,89.2 572.3,91.3 572.7,93.3 Z" transform="translate(-0.9,0.9)" fill="none" stroke="#d0d0d0" stroke-width="1.5"/>
<path d="M572.7,93.3 C573.0,95.3 572.8,97.6 572.2,99.5 C571.5,101.5 570.3,103.5 568.8,105.1 C567.3,106.6 565.2,108.0 563.1,108.8 C561.0,109.7 558.5,110.1 556.3,110.0 C554.0,110.0 551.6,109.4 549.6,108.5 C547.7,107.5 545.8,106.0 544.5,104.4 C543.2,102.8 542.3,100.7 541.9,98.7 C541.6,96.7 541.8,94.4 542.4,92.5 C543.1,90.5 544.3,88.5 545.8,86.9 C547.3,85.4 549.4,84.0 551.5,83.2 C553.6,82.3 556.1,81.9 558.3,82.0 C560.6,82.0 563.0,82.6 565.0,83.5 C566.9,84.5 568.8,86.0 570.1,87.6 C571.4,89.2 572.3,91.3 572.7,93.3 Z" fill="#a6a6a6"/>
<circle cx="557" cy="95" r="4" fill="none" stroke="#7a7a7a" stroke-width="1.2"/><circle cx="560" cy="68" r="3" fill="none" stroke="#6a6a6a" stroke-width="1"/>
<g fill="#777"><circle cx="583" cy="35" r="1"/><circle cx="590" cy="33" r="1"/><circle cx="586" cy="40" r="1"/><circle cx="585" cy="88" r="0.8"/><circle cx="587" cy="90" r="0.8"/><circle cx="584" cy="91" r="0.8"/></g>
</g>
<line x1="517.30" y1="104.00" x2="543.20" y2="104.00" stroke="#111" stroke-width="0.7"/>
<rect x="517.30" y="101.60" width="6.70" height="1.70" fill="#444"/>
</g>
<g clip-path="url(#cTR)"><g filter="url(#bl)">
<rect x="635.30" y="22.40" width="118.30" height="93.40" fill="url(#gR)"/>
<ellipse cx="705.5" cy="67.6" rx="17.6" ry="20.8" transform="rotate(-10 705.5 67.6)" fill="none" stroke="#151515" stroke-width="3.8"/><ellipse cx="702.4" cy="70.7" rx="17.6" ry="20.8" transform="rotate(-10 702.4 70.7)" fill="none" stroke="#c4c4c4" stroke-width="2.8"/><ellipse cx="703.6" cy="69.3" rx="16.4" ry="19.6" transform="rotate(-10 703.6 69.3)" fill="url(#cellR)"/><ellipse cx="702.8" cy="70.1" rx="14.6" ry="17.8" transform="rotate(-10 703.6 69.3)" fill="none" stroke="#a8a8a8" stroke-width="1.2" opacity="0.8"/>
<g filter="url(#bl2)" opacity="0.6"><circle cx="698" cy="66" r="4" fill="#a4a4a4"/><circle cx="708" cy="76" r="4" fill="#7c7c7c"/><circle cx="706" cy="60" r="3" fill="#a0a0a0"/></g>
<g fill="#8a8a8a"><circle cx="679" cy="35" r="1.6"/><circle cx="642" cy="38" r="1"/><circle cx="655" cy="91" r="1"/><circle cx="735" cy="85" r="1"/></g>
</g>
<line x1="637.40" y1="105.00" x2="663.90" y2="105.00" stroke="#111" stroke-width="0.7"/>
<rect x="637.40" y="102.80" width="6.60" height="1.60" fill="#333"/>
</g>
<g clip-path="url(#cBL)"><g filter="url(#bl)">
<rect x="515.30" y="115.60" width="118.90" height="95.20" fill="url(#gL2)"/>
<ellipse cx="578" cy="180" rx="16" ry="22" fill="#9c9c9c" filter="url(#bl2)" opacity="0.4"/>
<path d="M566.8,131.5 C566.8,133.7 566.3,136.0 565.5,138.0 C564.7,139.9 563.4,141.8 562.0,143.1 C560.5,144.5 558.7,145.5 556.8,146.0 C555.0,146.5 553.0,146.5 551.2,146.0 C549.3,145.5 547.5,144.5 546.0,143.1 C544.6,141.8 543.3,139.9 542.5,138.0 C541.7,136.0 541.2,133.7 541.2,131.5 C541.2,129.3 541.7,127.0 542.5,125.0 C543.3,123.1 544.6,121.2 546.0,119.9 C547.5,118.5 549.3,117.5 551.2,117.0 C553.0,116.5 555.0,116.5 556.8,117.0 C558.7,117.5 560.5,118.5 562.0,119.9 C563.4,121.2 564.7,123.1 565.5,125.0 C566.3,127.0 566.8,129.3 566.8,131.5 Z" transform="translate(0.9,-0.9)" fill="none" stroke="#141414" stroke-width="2.8"/>
<path d="M566.8,131.5 C566.8,133.7 566.3,136.0 565.5,138.0 C564.7,139.9 563.4,141.8 562.0,143.1 C560.5,144.5 558.7,145.5 556.8,146.0 C555.0,146.5 553.0,146.5 551.2,146.0 C549.3,145.5 547.5,144.5 546.0,143.1 C544.6,141.8 543.3,139.9 542.5,138.0 C541.7,136.0 541.2,133.7 541.2,131.5 C541.2,129.3 541.7,127.0 542.5,125.0 C543.3,123.1 544.6,121.2 546.0,119.9 C547.5,118.5 549.3,117.5 551.2,117.0 C553.0,116.5 555.0,116.5 556.8,117.0 C558.7,117.5 560.5,118.5 562.0,119.9 C563.4,121.2 564.7,123.1 565.5,125.0 C566.3,127.0 566.8,129.3 566.8,131.5 Z" transform="translate(-0.9,0.9)" fill="none" stroke="#d0d0d0" stroke-width="1.8"/>
<path d="M566.8,131.5 C566.8,133.7 566.3,136.0 565.5,138.0 C564.7,139.9 563.4,141.8 562.0,143.1 C560.5,144.5 558.7,145.5 556.8,146.0 C555.0,146.5 553.0,146.5 551.2,146.0 C549.3,145.5 547.5,144.5 546.0,143.1 C544.6,141.8 543.3,139.9 542.5,138.0 C541.7,136.0 541.2,133.7 541.2,131.5 C541.2,129.3 541.7,127.0 542.5,125.0 C543.3,123.1 544.6,121.2 546.0,119.9 C547.5,118.5 549.3,117.5 551.2,117.0 C553.0,116.5 555.0,116.5 556.8,117.0 C558.7,117.5 560.5,118.5 562.0,119.9 C563.4,121.2 564.7,123.1 565.5,125.0 C566.3,127.0 566.8,129.3 566.8,131.5 Z" fill="#a6a6a6"/>
<path d="M580.0,120.0 C582.2,116.8 588.2,116.5 592.0,116.5 C595.8,116.5 600.9,117.1 603.0,120.0 C605.1,122.9 604.7,129.3 604.5,134.0 C604.3,138.7 603.8,145.0 602.0,148.0 C600.2,151.0 596.8,152.0 594.0,152.0 C591.2,152.0 587.5,150.7 585.0,148.0 C582.5,145.3 579.8,140.7 579.0,136.0 C578.2,131.3 577.8,123.2 580.0,120.0 Z" transform="translate(0.9,-0.9)" fill="none" stroke="#181818" stroke-width="2.8"/>
<path d="M580.0,120.0 C582.2,116.8 588.2,116.5 592.0,116.5 C595.8,116.5 600.9,117.1 603.0,120.0 C605.1,122.9 604.7,129.3 604.5,134.0 C604.3,138.7 603.8,145.0 602.0,148.0 C600.2,151.0 596.8,152.0 594.0,152.0 C591.2,152.0 587.5,150.7 585.0,148.0 C582.5,145.3 579.8,140.7 579.0,136.0 C578.2,131.3 577.8,123.2 580.0,120.0 Z" transform="translate(-0.9,0.9)" fill="none" stroke="#d0d0d0" stroke-width="1.8"/>
<path d="M580.0,120.0 C582.2,116.8 588.2,116.5 592.0,116.5 C595.8,116.5 600.9,117.1 603.0,120.0 C605.1,122.9 604.7,129.3 604.5,134.0 C604.3,138.7 603.8,145.0 602.0,148.0 C600.2,151.0 596.8,152.0 594.0,152.0 C591.2,152.0 587.5,150.7 585.0,148.0 C582.5,145.3 579.8,140.7 579.0,136.0 C578.2,131.3 577.8,123.2 580.0,120.0 Z" fill="#a2a2a2"/>
<path d="M586.0,147.5 C586.0,148.6 585.6,149.8 585.0,150.8 C584.4,151.7 583.4,152.7 582.2,153.4 C581.1,154.0 579.6,154.6 578.2,154.8 C576.8,155.1 575.2,155.1 573.8,154.8 C572.4,154.6 570.9,154.0 569.8,153.4 C568.6,152.7 567.6,151.7 567.0,150.8 C566.4,149.8 566.0,148.6 566.0,147.5 C566.0,146.4 566.4,145.2 567.0,144.2 C567.6,143.3 568.6,142.3 569.8,141.6 C570.9,141.0 572.4,140.4 573.8,140.2 C575.2,139.9 576.8,139.9 578.2,140.2 C579.6,140.4 581.1,141.0 582.2,141.6 C583.4,142.3 584.4,143.3 585.0,144.2 C585.6,145.2 586.0,146.4 586.0,147.5 Z" transform="translate(0.9,-0.9)" fill="none" stroke="#909090" stroke-width="1.6"/>
<path d="M586.0,147.5 C586.0,148.6 585.6,149.8 585.0,150.8 C584.4,151.7 583.4,152.7 582.2,153.4 C581.1,154.0 579.6,154.6 578.2,154.8 C576.8,155.1 575.2,155.1 573.8,154.8 C572.4,154.6 570.9,154.0 569.8,153.4 C568.6,152.7 567.6,151.7 567.0,150.8 C566.4,149.8 566.0,148.6 566.0,147.5 C566.0,146.4 566.4,145.2 567.0,144.2 C567.6,143.3 568.6,142.3 569.8,141.6 C570.9,141.0 572.4,140.4 573.8,140.2 C575.2,139.9 576.8,139.9 578.2,140.2 C579.6,140.4 581.1,141.0 582.2,141.6 C583.4,142.3 584.4,143.3 585.0,144.2 C585.6,145.2 586.0,146.4 586.0,147.5 Z" transform="translate(-0.9,0.9)" fill="none" stroke="#f8f8f8" stroke-width="1.6"/>
<path d="M586.0,147.5 C586.0,148.6 585.6,149.8 585.0,150.8 C584.4,151.7 583.4,152.7 582.2,153.4 C581.1,154.0 579.6,154.6 578.2,154.8 C576.8,155.1 575.2,155.1 573.8,154.8 C572.4,154.6 570.9,154.0 569.8,153.4 C568.6,152.7 567.6,151.7 567.0,150.8 C566.4,149.8 566.0,148.6 566.0,147.5 C566.0,146.4 566.4,145.2 567.0,144.2 C567.6,143.3 568.6,142.3 569.8,141.6 C570.9,141.0 572.4,140.4 573.8,140.2 C575.2,139.9 576.8,139.9 578.2,140.2 C579.6,140.4 581.1,141.0 582.2,141.6 C583.4,142.3 584.4,143.3 585.0,144.2 C585.6,145.2 586.0,146.4 586.0,147.5 Z" fill="#cacaca"/>
<path d="M546.0,152.0 C548.0,149.4 552.5,147.5 556.0,147.5 C559.5,147.5 564.7,149.8 567.0,152.0 C569.3,154.2 570.3,158.0 570.0,161.0 C569.7,164.0 567.0,167.5 565.0,170.0 C563.0,172.5 560.7,175.3 558.0,176.0 C555.3,176.7 551.3,176.2 549.0,174.0 C546.7,171.8 544.5,166.7 544.0,163.0 C543.5,159.3 544.0,154.6 546.0,152.0 Z" transform="translate(0.9,-0.9)" fill="none" stroke="#0a0a0a" stroke-width="3.6"/>
<path d="M546.0,152.0 C548.0,149.4 552.5,147.5 556.0,147.5 C559.5,147.5 564.7,149.8 567.0,152.0 C569.3,154.2 570.3,158.0 570.0,161.0 C569.7,164.0 567.0,167.5 565.0,170.0 C563.0,172.5 560.7,175.3 558.0,176.0 C555.3,176.7 551.3,176.2 549.0,174.0 C546.7,171.8 544.5,166.7 544.0,163.0 C543.5,159.3 544.0,154.6 546.0,152.0 Z" transform="translate(-0.9,0.9)" fill="none" stroke="#d8d8d8" stroke-width="1.8"/>
<path d="M546.0,152.0 C548.0,149.4 552.5,147.5 556.0,147.5 C559.5,147.5 564.7,149.8 567.0,152.0 C569.3,154.2 570.3,158.0 570.0,161.0 C569.7,164.0 567.0,167.5 565.0,170.0 C563.0,172.5 560.7,175.3 558.0,176.0 C555.3,176.7 551.3,176.2 549.0,174.0 C546.7,171.8 544.5,166.7 544.0,163.0 C543.5,159.3 544.0,154.6 546.0,152.0 Z" fill="#b0b0b0"/>
<path d="M576.1,194.0 C576.1,196.3 575.4,198.9 574.3,201.0 C573.1,203.1 571.2,205.2 569.1,206.7 C567.0,208.1 564.3,209.3 561.6,209.8 C559.0,210.3 556.0,210.3 553.4,209.8 C550.7,209.3 548.0,208.1 545.9,206.7 C543.8,205.2 541.9,203.1 540.7,201.0 C539.6,198.9 538.9,196.3 538.9,194.0 C538.9,191.7 539.6,189.1 540.7,187.0 C541.9,184.9 543.8,182.8 545.9,181.3 C548.0,179.9 550.7,178.7 553.4,178.2 C556.0,177.7 559.0,177.7 561.6,178.2 C564.3,178.7 567.0,179.9 569.1,181.3 C571.2,182.8 573.1,184.9 574.3,187.0 C575.4,189.1 576.1,191.7 576.1,194.0 Z" transform="translate(0.9,-0.9)" fill="none" stroke="#161616" stroke-width="2.8"/>
<path d="M576.1,194.0 C576.1,196.3 575.4,198.9 574.3,201.0 C573.1,203.1 571.2,205.2 569.1,206.7 C567.0,208.1 564.3,209.3 561.6,209.8 C559.0,210.3 556.0,210.3 553.4,209.8 C550.7,209.3 548.0,208.1 545.9,206.7 C543.8,205.2 541.9,203.1 540.7,201.0 C539.6,198.9 538.9,196.3 538.9,194.0 C538.9,191.7 539.6,189.1 540.7,187.0 C541.9,184.9 543.8,182.8 545.9,181.3 C548.0,179.9 550.7,178.7 553.4,178.2 C556.0,177.7 559.0,177.7 561.6,178.2 C564.3,178.7 567.0,179.9 569.1,181.3 C571.2,182.8 573.1,184.9 574.3,187.0 C575.4,189.1 576.1,191.7 576.1,194.0 Z" transform="translate(-0.9,0.9)" fill="none" stroke="#d4d4d4" stroke-width="1.8"/>
<path d="M576.1,194.0 C576.1,196.3 575.4,198.9 574.3,201.0 C573.1,203.1 571.2,205.2 569.1,206.7 C567.0,208.1 564.3,209.3 561.6,209.8 C559.0,210.3 556.0,210.3 553.4,209.8 C550.7,209.3 548.0,208.1 545.9,206.7 C543.8,205.2 541.9,203.1 540.7,201.0 C539.6,198.9 538.9,196.3 538.9,194.0 C538.9,191.7 539.6,189.1 540.7,187.0 C541.9,184.9 543.8,182.8 545.9,181.3 C548.0,179.9 550.7,178.7 553.4,178.2 C556.0,177.7 559.0,177.7 561.6,178.2 C564.3,178.7 567.0,179.9 569.1,181.3 C571.2,182.8 573.1,184.9 574.3,187.0 C575.4,189.1 576.1,191.7 576.1,194.0 Z" fill="#aaaaaa"/>
<ellipse cx="557" cy="194" rx="12" ry="11" fill="none" stroke="#8a8a8a" stroke-width="1"/>
<path d="M627.0,214.0 C627.0,215.2 626.2,216.4 624.8,217.5 C623.4,218.5 621.2,219.5 618.7,220.3 C616.2,221.0 613.0,221.5 609.9,221.8 C606.8,222.1 603.2,222.1 600.1,221.8 C597.0,221.5 593.8,221.0 591.3,220.3 C588.8,219.5 586.6,218.5 585.2,217.5 C583.8,216.4 583.0,215.2 583.0,214.0 C583.0,212.8 583.8,211.6 585.2,210.5 C586.6,209.5 588.8,208.5 591.3,207.7 C593.8,207.0 597.0,206.5 600.1,206.2 C603.2,205.9 606.8,205.9 609.9,206.2 C613.0,206.5 616.2,207.0 618.7,207.7 C621.2,208.5 623.4,209.5 624.8,210.5 C626.2,211.6 627.0,212.8 627.0,214.0 Z" transform="translate(0.9,-0.9)" fill="none" stroke="#aaa" stroke-width="1.4"/>
<path d="M627.0,214.0 C627.0,215.2 626.2,216.4 624.8,217.5 C623.4,218.5 621.2,219.5 618.7,220.3 C616.2,221.0 613.0,221.5 609.9,221.8 C606.8,222.1 603.2,222.1 600.1,221.8 C597.0,221.5 593.8,221.0 591.3,220.3 C588.8,219.5 586.6,218.5 585.2,217.5 C583.8,216.4 583.0,215.2 583.0,214.0 C583.0,212.8 583.8,211.6 585.2,210.5 C586.6,209.5 588.8,208.5 591.3,207.7 C593.8,207.0 597.0,206.5 600.1,206.2 C603.2,205.9 606.8,205.9 609.9,206.2 C613.0,206.5 616.2,207.0 618.7,207.7 C621.2,208.5 623.4,209.5 624.8,210.5 C626.2,211.6 627.0,212.8 627.0,214.0 Z" transform="translate(-0.9,0.9)" fill="none" stroke="#eee" stroke-width="1.4"/>
<path d="M627.0,214.0 C627.0,215.2 626.2,216.4 624.8,217.5 C623.4,218.5 621.2,219.5 618.7,220.3 C616.2,221.0 613.0,221.5 609.9,221.8 C606.8,222.1 603.2,222.1 600.1,221.8 C597.0,221.5 593.8,221.0 591.3,220.3 C588.8,219.5 586.6,218.5 585.2,217.5 C583.8,216.4 583.0,215.2 583.0,214.0 C583.0,212.8 583.8,211.6 585.2,210.5 C586.6,209.5 588.8,208.5 591.3,207.7 C593.8,207.0 597.0,206.5 600.1,206.2 C603.2,205.9 606.8,205.9 609.9,206.2 C613.0,206.5 616.2,207.0 618.7,207.7 C621.2,208.5 623.4,209.5 624.8,210.5 C626.2,211.6 627.0,212.8 627.0,214.0 Z" fill="#c4c4c4"/>
</g>
<line x1="517.40" y1="200.00" x2="543.90" y2="200.00" stroke="#111" stroke-width="0.7"/>
<rect x="517.40" y="197.80" width="6.60" height="1.50" fill="#444"/>
</g>
<g clip-path="url(#cBR)"><g filter="url(#bl)">
<rect x="635.30" y="116.90" width="118.90" height="94.20" fill="url(#gR)"/>
<ellipse cx="706.0" cy="167.5" rx="18.0" ry="20.9" transform="rotate(-8 706.0 167.5)" fill="none" stroke="#151515" stroke-width="3.8"/><ellipse cx="702.9" cy="170.6" rx="18.0" ry="20.9" transform="rotate(-8 702.9 170.6)" fill="none" stroke="#c4c4c4" stroke-width="2.8"/><ellipse cx="704.1" cy="169.2" rx="16.8" ry="19.7" transform="rotate(-8 704.1 169.2)" fill="url(#cellR)"/><ellipse cx="703.3" cy="170.0" rx="15.0" ry="17.9" transform="rotate(-8 704.1 169.2)" fill="none" stroke="#a8a8a8" stroke-width="1.2" opacity="0.8"/>
<g filter="url(#bl2)" opacity="0.6"><circle cx="699" cy="166" r="4" fill="#a4a4a4"/><circle cx="709" cy="176" r="4" fill="#7c7c7c"/></g>
<g fill="#8a8a8a"><circle cx="679" cy="140" r="1.6"/><circle cx="642" cy="142" r="1"/><circle cx="655" cy="186" r="1"/><circle cx="735" cy="190" r="1"/></g>
</g>
<line x1="637.40" y1="200.50" x2="663.90" y2="200.50" stroke="#111" stroke-width="0.7"/>
<rect x="637.40" y="198.30" width="6.60" height="1.50" fill="#333"/>
</g>
<text x="480.38" y="215.81" font-size="25.00" textLength="8.33" lengthAdjust="spacingAndGlyphs" font-weight="bold" fill="#000">f</text>
<line x1="530.40" y1="220.10" x2="530.40" y2="314.60" stroke="#111" stroke-width="1.6"/>
<line x1="525.70" y1="220.90" x2="530.40" y2="220.90" stroke="#111" stroke-width="1.6"/>
<text x="502.14" y="225.09" font-size="12.00" textLength="20.02" lengthAdjust="spacingAndGlyphs" fill="#000">400</text>
<line x1="525.70" y1="251.80" x2="530.40" y2="251.80" stroke="#111" stroke-width="1.6"/>
<text x="502.14" y="255.99" font-size="12.00" textLength="20.02" lengthAdjust="spacingAndGlyphs" fill="#000">300</text>
<line x1="525.70" y1="282.90" x2="530.40" y2="282.90" stroke="#111" stroke-width="1.6"/>
<text x="502.14" y="287.08" font-size="12.00" textLength="20.02" lengthAdjust="spacingAndGlyphs" fill="#000">200</text>
<line x1="525.70" y1="313.80" x2="530.40" y2="313.80" stroke="#111" stroke-width="1.6"/>
<text x="502.14" y="317.99" font-size="12.00" textLength="20.02" lengthAdjust="spacingAndGlyphs" fill="#000">100</text>
<text transform="translate(495.60,292.50) rotate(-90)" font-size="12.50" fill="#000"><tspan>Area (%)</tspan></text>
<line x1="529.60" y1="313.80" x2="630.20" y2="313.80" stroke="#111" stroke-width="1.6"/>
<line x1="535.90" y1="313.80" x2="535.90" y2="317.40" stroke="#111" stroke-width="1.6"/>
<text x="535.90" y="335.10" font-size="12.00" fill="#000" text-anchor="middle">0</text>
<line x1="554.60" y1="313.80" x2="554.60" y2="317.40" stroke="#111" stroke-width="1.6"/>
<text x="554.60" y="335.10" font-size="12.00" fill="#000" text-anchor="middle">2</text>
<line x1="573.30" y1="313.80" x2="573.30" y2="317.40" stroke="#111" stroke-width="1.6"/>
<text x="573.30" y="335.10" font-size="12.00" fill="#000" text-anchor="middle">4</text>
<line x1="592.00" y1="313.80" x2="592.00" y2="317.40" stroke="#111" stroke-width="1.6"/>
<text x="592.00" y="335.10" font-size="12.00" fill="#000" text-anchor="middle">6</text>
<line x1="610.70" y1="313.80" x2="610.70" y2="317.40" stroke="#111" stroke-width="1.6"/>
<text x="610.70" y="335.10" font-size="12.00" fill="#000" text-anchor="middle">8</text>
<line x1="629.40" y1="313.80" x2="629.40" y2="317.40" stroke="#111" stroke-width="1.6"/>
<text x="629.40" y="335.10" font-size="12.00" fill="#000" text-anchor="middle">10</text>
<text x="551.93" y="349.70" font-size="13.30" textLength="63.07" lengthAdjust="spacingAndGlyphs" fill="#000">Time (min)</text>
<rect x="555.30" y="237.73" width="11.56" height="2.83" fill="#000"/>
<rect x="559.66" y="233.37" width="2.83" height="11.56" fill="#000"/>
<rect x="575.84" y="237.73" width="11.56" height="2.83" fill="#000"/>
<rect x="580.21" y="233.37" width="2.83" height="11.56" fill="#000"/>
<line x1="573.76" y1="232.25" x2="569.42" y2="245.75" stroke="#000" stroke-width="1.8250000000000028" stroke-linecap="round"/>
<text x="534.40" y="261.57" font-size="14.97" textLength="18.29" lengthAdjust="spacingAndGlyphs" fill="#000">(6)</text>
<text x="592.24" y="286.30" font-size="13.06" textLength="34.83" lengthAdjust="spacingAndGlyphs" fill="#1414f5">cAMP</text>
<text x="606.41" y="305.00" font-size="13.95" textLength="22.50" lengthAdjust="spacingAndGlyphs" fill="#000">con</text>
<path d="M535.90,313.40 L629.40,312.80" stroke="#000" stroke-width="1.0" fill="none" stroke-linejoin="round"/>
<line x1="573.10" y1="277.20" x2="573.10" y2="290.40" stroke="#1414f5" stroke-width="1.0"/>
<line x1="571.20" y1="277.20" x2="575.00" y2="277.20" stroke="#1414f5" stroke-width="1.0"/>
<line x1="571.20" y1="290.40" x2="575.00" y2="290.40" stroke="#1414f5" stroke-width="1.0"/>
<line x1="582.70" y1="266.00" x2="582.70" y2="280.60" stroke="#1414f5" stroke-width="1.0"/>
<line x1="580.80" y1="266.00" x2="584.60" y2="266.00" stroke="#1414f5" stroke-width="1.0"/>
<line x1="580.80" y1="280.60" x2="584.60" y2="280.60" stroke="#1414f5" stroke-width="1.0"/>
<line x1="591.80" y1="249.30" x2="591.80" y2="270.00" stroke="#1414f5" stroke-width="1.0"/>
<line x1="589.90" y1="249.30" x2="593.70" y2="249.30" stroke="#1414f5" stroke-width="1.0"/>
<line x1="589.90" y1="270.00" x2="593.70" y2="270.00" stroke="#1414f5" stroke-width="1.0"/>
<line x1="601.40" y1="245.70" x2="601.40" y2="266.00" stroke="#1414f5" stroke-width="1.0"/>
<line x1="599.50" y1="245.70" x2="603.30" y2="245.70" stroke="#1414f5" stroke-width="1.0"/>
<line x1="599.50" y1="266.00" x2="603.30" y2="266.00" stroke="#1414f5" stroke-width="1.0"/>
<line x1="610.50" y1="243.20" x2="610.50" y2="262.90" stroke="#1414f5" stroke-width="1.0"/>
<line x1="608.60" y1="243.20" x2="612.40" y2="243.20" stroke="#1414f5" stroke-width="1.0"/>
<line x1="608.60" y1="262.90" x2="612.40" y2="262.90" stroke="#1414f5" stroke-width="1.0"/>
<line x1="619.90" y1="240.00" x2="619.90" y2="259.50" stroke="#1414f5" stroke-width="1.0"/>
<line x1="618.00" y1="240.00" x2="621.80" y2="240.00" stroke="#1414f5" stroke-width="1.0"/>
<line x1="618.00" y1="259.50" x2="621.80" y2="259.50" stroke="#1414f5" stroke-width="1.0"/>
<line x1="629.40" y1="236.50" x2="629.40" y2="253.80" stroke="#1414f5" stroke-width="1.0"/>
<line x1="627.50" y1="236.50" x2="631.30" y2="236.50" stroke="#1414f5" stroke-width="1.0"/>
<line x1="627.50" y1="253.80" x2="631.30" y2="253.80" stroke="#1414f5" stroke-width="1.0"/>
<path d="M535.90,313.80 L545.50,312.10 L554.60,311.10 L563.80,309.70 L573.10,283.30 L582.70,273.30 L591.80,259.50 L601.40,255.80 L610.50,253.20 L619.90,250.10 L629.40,245.30" stroke="#1414f5" stroke-width="1.8" fill="none" stroke-linejoin="round"/>
<circle cx="535.90" cy="313.80" r="1.9" fill="#1414f5"/>
<circle cx="545.50" cy="312.10" r="1.9" fill="#1414f5"/>
<circle cx="554.60" cy="311.10" r="1.9" fill="#1414f5"/>
<circle cx="563.80" cy="309.70" r="1.9" fill="#1414f5"/>
<circle cx="573.10" cy="283.30" r="1.9" fill="#1414f5"/>
<circle cx="582.70" cy="273.30" r="1.9" fill="#1414f5"/>
<circle cx="591.80" cy="259.50" r="1.9" fill="#1414f5"/>
<circle cx="601.40" cy="255.80" r="1.9" fill="#1414f5"/>
<circle cx="610.50" cy="253.20" r="1.9" fill="#1414f5"/>
<circle cx="619.90" cy="250.10" r="1.9" fill="#1414f5"/>
<circle cx="629.40" cy="245.30" r="1.9" fill="#1414f5"/>
<text x="573.30" y="275.04" font-size="11.05" fill="#222" text-anchor="middle">*</text>
<text x="582.50" y="261.24" font-size="11.05" fill="#222" text-anchor="middle">*</text>
<text x="594.70" y="250.54" font-size="11.05" fill="#222" text-anchor="middle">*</text>
<text x="604.50" y="248.14" font-size="11.05" fill="#222" text-anchor="middle">*</text>
<text x="613.50" y="245.14" font-size="11.05" fill="#222" text-anchor="middle">*</text>
<text x="622.50" y="240.64" font-size="11.05" fill="#222" text-anchor="middle">*</text>
<text x="631.50" y="235.94" font-size="11.05" fill="#222" text-anchor="middle">*</text>
<line x1="650.40" y1="311.10" x2="744.40" y2="311.10" stroke="#111" stroke-width="1.6"/>
<line x1="650.40" y1="311.10" x2="650.40" y2="314.70" stroke="#111" stroke-width="1.6"/>
<text x="650.40" y="332.40" font-size="12.00" fill="#000" text-anchor="middle">0</text>
<line x1="669.10" y1="311.10" x2="669.10" y2="314.70" stroke="#111" stroke-width="1.6"/>
<text x="669.10" y="332.40" font-size="12.00" fill="#000" text-anchor="middle">2</text>
<line x1="687.80" y1="311.10" x2="687.80" y2="314.70" stroke="#111" stroke-width="1.6"/>
<text x="687.80" y="332.40" font-size="12.00" fill="#000" text-anchor="middle">4</text>
<line x1="706.50" y1="311.10" x2="706.50" y2="314.70" stroke="#111" stroke-width="1.6"/>
<text x="706.50" y="332.40" font-size="12.00" fill="#000" text-anchor="middle">6</text>
<line x1="725.20" y1="311.10" x2="725.20" y2="314.70" stroke="#111" stroke-width="1.6"/>
<text x="725.20" y="332.40" font-size="12.00" fill="#000" text-anchor="middle">8</text>
<line x1="743.90" y1="311.10" x2="743.90" y2="314.70" stroke="#111" stroke-width="1.6"/>
<text x="743.90" y="332.40" font-size="12.00" fill="#000" text-anchor="middle">10</text>
<text x="666.33" y="347.00" font-size="13.30" textLength="63.07" lengthAdjust="spacingAndGlyphs" fill="#000">Time (min)</text>
<text x="651.46" y="256.41" font-size="15.69" textLength="19.18" lengthAdjust="spacingAndGlyphs" fill="#000">(5)</text>
<rect x="681.20" y="241.36" width="6.24" height="3.29" fill="#000"/>
<rect x="695.76" y="241.36" width="6.24" height="3.29" fill="#000"/>
<line x1="694.30" y1="237.20" x2="690.25" y2="253.30" stroke="#000" stroke-width="1.9895000000000014" stroke-linecap="round"/>
<text x="651.83" y="281.20" font-size="13.45" textLength="35.87" lengthAdjust="spacingAndGlyphs" fill="#1414f5">cAMP</text>
<text x="731.14" y="306.60" font-size="13.09" textLength="21.11" lengthAdjust="spacingAndGlyphs" fill="#000">con</text>
<path d="M650.40,310.60 L743.90,309.80" stroke="#000" stroke-width="1.0" fill="none" stroke-linejoin="round"/>
<line x1="659.50" y1="304.60" x2="659.50" y2="308.30" stroke="#1414f5" stroke-width="1.0"/>
<line x1="657.60" y1="304.60" x2="661.40" y2="304.60" stroke="#1414f5" stroke-width="1.0"/>
<line x1="657.60" y1="308.30" x2="661.40" y2="308.30" stroke="#1414f5" stroke-width="1.0"/>
<line x1="669.10" y1="302.60" x2="669.10" y2="307.70" stroke="#1414f5" stroke-width="1.0"/>
<line x1="667.20" y1="302.60" x2="671.00" y2="302.60" stroke="#1414f5" stroke-width="1.0"/>
<line x1="667.20" y1="307.70" x2="671.00" y2="307.70" stroke="#1414f5" stroke-width="1.0"/>
<line x1="678.40" y1="300.10" x2="678.40" y2="307.70" stroke="#1414f5" stroke-width="1.0"/>
<line x1="676.50" y1="300.10" x2="680.30" y2="300.10" stroke="#1414f5" stroke-width="1.0"/>
<line x1="676.50" y1="307.70" x2="680.30" y2="307.70" stroke="#1414f5" stroke-width="1.0"/>
<line x1="687.60" y1="298.10" x2="687.60" y2="305.00" stroke="#1414f5" stroke-width="1.0"/>
<line x1="685.70" y1="298.10" x2="689.50" y2="298.10" stroke="#1414f5" stroke-width="1.0"/>
<line x1="685.70" y1="305.00" x2="689.50" y2="305.00" stroke="#1414f5" stroke-width="1.0"/>
<line x1="697.10" y1="296.10" x2="697.10" y2="304.20" stroke="#1414f5" stroke-width="1.0"/>
<line x1="695.20" y1="296.10" x2="699.00" y2="296.10" stroke="#1414f5" stroke-width="1.0"/>
<line x1="695.20" y1="304.20" x2="699.00" y2="304.20" stroke="#1414f5" stroke-width="1.0"/>
<line x1="706.30" y1="294.00" x2="706.30" y2="302.60" stroke="#1414f5" stroke-width="1.0"/>
<line x1="704.40" y1="294.00" x2="708.20" y2="294.00" stroke="#1414f5" stroke-width="1.0"/>
<line x1="704.40" y1="302.60" x2="708.20" y2="302.60" stroke="#1414f5" stroke-width="1.0"/>
<line x1="715.80" y1="293.40" x2="715.80" y2="302.20" stroke="#1414f5" stroke-width="1.0"/>
<line x1="713.90" y1="293.40" x2="717.70" y2="293.40" stroke="#1414f5" stroke-width="1.0"/>
<line x1="713.90" y1="302.20" x2="717.70" y2="302.20" stroke="#1414f5" stroke-width="1.0"/>
<line x1="725.00" y1="289.00" x2="725.00" y2="300.10" stroke="#1414f5" stroke-width="1.0"/>
<line x1="723.10" y1="289.00" x2="726.90" y2="289.00" stroke="#1414f5" stroke-width="1.0"/>
<line x1="723.10" y1="300.10" x2="726.90" y2="300.10" stroke="#1414f5" stroke-width="1.0"/>
<line x1="734.30" y1="287.30" x2="734.30" y2="297.50" stroke="#1414f5" stroke-width="1.0"/>
<line x1="732.40" y1="287.30" x2="736.20" y2="287.30" stroke="#1414f5" stroke-width="1.0"/>
<line x1="732.40" y1="297.50" x2="736.20" y2="297.50" stroke="#1414f5" stroke-width="1.0"/>
<line x1="743.90" y1="285.90" x2="743.90" y2="296.50" stroke="#1414f5" stroke-width="1.0"/>
<line x1="742.00" y1="285.90" x2="745.80" y2="285.90" stroke="#1414f5" stroke-width="1.0"/>
<line x1="742.00" y1="296.50" x2="745.80" y2="296.50" stroke="#1414f5" stroke-width="1.0"/>
<path d="M650.40,311.10 L659.50,306.20 L669.10,305.00 L678.40,303.60 L687.60,301.60 L697.10,299.90 L706.30,298.10 L715.80,297.50 L725.00,294.40 L734.30,292.40 L743.90,291.40" stroke="#1414f5" stroke-width="1.8" fill="none" stroke-linejoin="round"/>
<circle cx="650.40" cy="311.10" r="1.9" fill="#1414f5"/>
<circle cx="659.50" cy="306.20" r="1.9" fill="#1414f5"/>
<circle cx="669.10" cy="305.00" r="1.9" fill="#1414f5"/>
<circle cx="678.40" cy="303.60" r="1.9" fill="#1414f5"/>
<circle cx="687.60" cy="301.60" r="1.9" fill="#1414f5"/>
<circle cx="697.10" cy="299.90" r="1.9" fill="#1414f5"/>
<circle cx="706.30" cy="298.10" r="1.9" fill="#1414f5"/>
<circle cx="715.80" cy="297.50" r="1.9" fill="#1414f5"/>
<circle cx="725.00" cy="294.40" r="1.9" fill="#1414f5"/>
<circle cx="734.30" cy="292.40" r="1.9" fill="#1414f5"/>
<circle cx="743.90" cy="291.40" r="1.9" fill="#1414f5"/>
<text x="678.90" y="298.54" font-size="11.05" fill="#222" text-anchor="middle">*</text>
<text x="688.10" y="295.94" font-size="11.05" fill="#222" text-anchor="middle">*</text>
<text x="697.60" y="294.54" font-size="11.05" fill="#222" text-anchor="middle">*</text>
<text x="706.80" y="291.44" font-size="11.05" fill="#222" text-anchor="middle">*</text>
<text x="716.30" y="289.84" font-size="11.05" fill="#222" text-anchor="middle">*</text>
<text x="725.50" y="287.34" font-size="11.05" fill="#222" text-anchor="middle">*</text>
<text x="734.80" y="285.34" font-size="11.05" fill="#222" text-anchor="middle">*</text>
<text x="744.40" y="282.74" font-size="11.05" fill="#222" text-anchor="middle">*</text>
<text x="688.40" y="286.40" font-size="10.29" fill="#222" text-anchor="middle">#</text>
<text x="697.90" y="284.30" font-size="10.29" fill="#222" text-anchor="middle">#</text>
<text x="707.10" y="281.30" font-size="10.29" fill="#222" text-anchor="middle">#</text>
<text x="716.60" y="279.70" font-size="10.29" fill="#222" text-anchor="middle">#</text>
<text x="725.80" y="274.60" font-size="10.29" fill="#222" text-anchor="middle">#</text>
<text x="735.10" y="273.60" font-size="10.29" fill="#222" text-anchor="middle">#</text>
<text x="744.70" y="272.50" font-size="10.29" fill="#222" text-anchor="middle">#</text>
<text x="0.12" y="389.69" font-size="25.00" textLength="17.24" lengthAdjust="spacingAndGlyphs" font-weight="bold" fill="#000">g</text>
<rect x="115.40" y="361.20" width="65.60" height="18.20" fill="#000"/>
<text x="129.93" y="377.23" font-size="20.40" textLength="32.89" lengthAdjust="spacingAndGlyphs" fill="#fff">con</text>
<rect x="224.40" y="361.20" width="65.70" height="18.70" fill="#000"/>
<text x="238.27" y="378.68" font-size="18.55" textLength="40.19" lengthAdjust="spacingAndGlyphs" fill="#fff">CCH</text>
<text x="3.44" y="447.16" font-size="15.70" textLength="96.83" lengthAdjust="spacingAndGlyphs" fill="#000">TMEM16A+/+</text>
<line x1="105.60" y1="478.70" x2="113.30" y2="478.70" stroke="#000" stroke-width="1.3"/>
<rect x="112.90" y="472.30" width="72.10" height="10.70" fill="#000"/>
<line x1="113.00" y1="472.60" x2="185.00" y2="472.20" stroke="#555" stroke-width="0.8"/>
<path d="M185.00,483.30 L192.00,482.90 L199.00,482.20" stroke="#000" stroke-width="1.3" fill="none" stroke-linejoin="round"/>
<line x1="112.90" y1="471.80" x2="112.90" y2="484.20" stroke="#000" stroke-width="1.0"/>
<line x1="212.50" y1="483.20" x2="220.00" y2="483.20" stroke="#ff1414" stroke-width="3.0"/>
<line x1="220.00" y1="392.00" x2="220.00" y2="516.70" stroke="#ff1414" stroke-width="1.3"/>
<line x1="290.60" y1="402.50" x2="290.60" y2="520.50" stroke="#ff1414" stroke-width="1.3"/>
<path d="M220.00,460.00 C220.17,453.33 220.50,430.00 221.00,420.00 C221.50,410.00 222.17,404.50 223.00,400.00 C223.83,395.50 223.50,394.78 226.00,393.00 C228.50,391.22 234.00,389.55 238.00,389.30 C242.00,389.05 241.23,389.17 250.00,391.50 C258.77,393.83 283.83,401.33 290.60,403.30" stroke="#ff1414" stroke-width="1.45" fill="none" stroke-linejoin="round"/>
<path d="M220.00,450.00 C220.50,446.67 221.83,435.33 223.00,430.00 C224.17,424.67 225.50,420.67 227.00,418.00 C228.50,415.33 229.00,414.92 232.00,414.00 C235.00,413.08 235.23,412.03 245.00,412.50 C254.77,412.97 283.00,416.08 290.60,416.80" stroke="#ff1414" stroke-width="1.45" fill="none" stroke-linejoin="round"/>
<path d="M220.00,455.00 C220.67,453.00 222.50,446.00 224.00,443.00 C225.50,440.00 227.00,438.50 229.00,437.00 C231.00,435.50 233.00,434.67 236.00,434.00 C239.00,433.33 237.90,432.78 247.00,433.00 C256.10,433.22 283.33,434.92 290.60,435.30" stroke="#ff1414" stroke-width="1.45" fill="none" stroke-linejoin="round"/>
<path d="M220.00,467.20 C221.67,466.00 227.00,461.87 230.00,460.00 C233.00,458.13 235.17,457.03 238.00,456.00 C240.83,454.97 238.23,454.32 247.00,453.80 C255.77,453.28 283.33,453.05 290.60,452.90" stroke="#ff1414" stroke-width="1.45" fill="none" stroke-linejoin="round"/>
<path d="M220.00,477.00 L290.60,469.90" stroke="#ff1414" stroke-width="1.45" fill="none" stroke-linejoin="round"/>
<path d="M220.00,483.40 L290.60,483.40" stroke="#ff1414" stroke-width="1.45" fill="none" stroke-linejoin="round"/>
<path d="M220.00,489.70 L290.60,489.70" stroke="#ff1414" stroke-width="1.45" fill="none" stroke-linejoin="round"/>
<path d="M220.00,495.40 L290.60,495.40" stroke="#ff1414" stroke-width="1.45" fill="none" stroke-linejoin="round"/>
<path d="M220.00,500.70 L290.60,500.40" stroke="#ff1414" stroke-width="1.45" fill="none" stroke-linejoin="round"/>
<path d="M220.00,505.50 L290.60,504.80" stroke="#ff1414" stroke-width="1.45" fill="none" stroke-linejoin="round"/>
<path d="M220.00,510.00 C220.67,509.50 222.33,507.58 224.00,507.00 C225.67,506.42 218.90,506.33 230.00,506.50 C241.10,506.67 280.50,507.75 290.60,508.00" stroke="#ff1414" stroke-width="1.45" fill="none" stroke-linejoin="round"/>
<path d="M220.00,516.50 C220.50,515.67 221.67,512.67 223.00,511.50 C224.33,510.33 225.17,509.92 228.00,509.50 C230.83,509.08 229.57,508.83 240.00,509.00 C250.43,509.17 282.17,510.25 290.60,510.50" stroke="#ff1414" stroke-width="1.45" fill="none" stroke-linejoin="round"/>
<line x1="290.60" y1="508.60" x2="305.40" y2="508.60" stroke="#ff1414" stroke-width="2.6"/>
<path d="M290.60,520.50 L292.50,514.00 L296.00,511.00 L300.00,509.50 L305.40,508.60" stroke="#ff1414" stroke-width="1.2" fill="none" stroke-linejoin="round"/>
<path d="M290.60,516.00 L294.00,511.50 L299.00,509.50" stroke="#ff1414" stroke-width="1.0" fill="none" stroke-linejoin="round"/>
<text x="1.83" y="537.72" font-size="25.00" textLength="9.16" lengthAdjust="spacingAndGlyphs" font-weight="bold" fill="#000">j</text>
<rect x="113.75" y="544.25" width="65.50" height="18.25" fill="#000"/>
<text x="130.82" y="560.47" font-size="20.73" textLength="33.43" lengthAdjust="spacingAndGlyphs" fill="#fff">con</text>
<rect x="222.90" y="544.40" width="65.30" height="18.80" fill="#000"/>
<text x="234.47" y="562.17" font-size="20.56" textLength="44.55" lengthAdjust="spacingAndGlyphs" fill="#fff">CCH</text>
<line x1="60.00" y1="557.50" x2="60.00" y2="576.25" stroke="#000" stroke-width="1.3"/>
<line x1="59.35" y1="576.25" x2="96.25" y2="576.25" stroke="#000" stroke-width="1.3"/>
<text x="26.89" y="569.96" font-size="12.22" textLength="25.14" lengthAdjust="spacingAndGlyphs" fill="#000">2 nA</text>
<text x="58.30" y="591.13" font-size="12.02" textLength="38.74" lengthAdjust="spacingAndGlyphs" fill="#000">0.5 sec</text>
<text x="4.68" y="622.56" font-size="15.83" textLength="89.73" lengthAdjust="spacingAndGlyphs" fill="#000">TMEM16A-/-</text>
<line x1="101.25" y1="638.00" x2="108.75" y2="638.00" stroke="#000" stroke-width="1.3"/>
<line x1="108.75" y1="631.25" x2="108.75" y2="645.75" stroke="#000" stroke-width="1.3"/>
<rect x="108.75" y="634.25" width="70.75" height="5.75" fill="#000"/>
<line x1="179.50" y1="626.25" x2="179.50" y2="640.00" stroke="#000" stroke-width="1.3"/>
<line x1="179.50" y1="639.50" x2="194.50" y2="639.50" stroke="#000" stroke-width="1.3"/>
<line x1="209.90" y1="640.60" x2="217.60" y2="640.60" stroke="#ff1414" stroke-width="1.6"/>
<line x1="217.60" y1="626.70" x2="217.60" y2="656.10" stroke="#ff1414" stroke-width="1.3"/>
<rect x="217.60" y="630.30" width="70.80" height="18.10" fill="#ff1414"/>
<line x1="222.00" y1="632.50" x2="288.00" y2="632.50" stroke="#ff9090" stroke-width="0.5"/>
<line x1="222.00" y1="635.00" x2="288.00" y2="635.00" stroke="#ff9090" stroke-width="0.5"/>
<line x1="222.00" y1="637.30" x2="288.00" y2="637.30" stroke="#ff9090" stroke-width="0.5"/>
<line x1="222.00" y1="641.50" x2="288.00" y2="641.50" stroke="#ff9090" stroke-width="0.5"/>
<line x1="222.00" y1="644.60" x2="288.00" y2="644.60" stroke="#ff9090" stroke-width="0.5"/>
<path d="M217.60,632.00 L221.00,630.60 L230.00,630.30 L288.40,630.00" stroke="#ff1414" stroke-width="1.0" fill="none" stroke-linejoin="round"/>
<line x1="288.40" y1="617.00" x2="288.40" y2="650.80" stroke="#ff1414" stroke-width="1.3"/>
<line x1="288.40" y1="650.40" x2="303.00" y2="650.40" stroke="#ff1414" stroke-width="2.6"/>
<text x="361.26" y="393.19" font-size="25.00" textLength="18.04" lengthAdjust="spacingAndGlyphs" font-weight="bold" fill="#000">h</text>
<rect x="456.00" y="377.31" width="11.52" height="2.82" fill="#000"/>
<rect x="460.35" y="372.96" width="2.82" height="11.52" fill="#000"/>
<rect x="476.48" y="377.31" width="11.52" height="2.82" fill="#000"/>
<rect x="480.83" y="372.96" width="2.82" height="11.52" fill="#000"/>
<line x1="474.40" y1="370.73" x2="470.08" y2="386.37" stroke="#000" stroke-width="2.112499999999997" stroke-linecap="round"/>
<line x1="430.10" y1="396.60" x2="430.10" y2="491.00" stroke="#111" stroke-width="1.6"/>
<line x1="420.40" y1="397.40" x2="430.10" y2="397.40" stroke="#111" stroke-width="1.6"/>
<text x="388.88" y="401.58" font-size="12.00" textLength="26.70" lengthAdjust="spacingAndGlyphs" fill="#000">2000</text>
<line x1="420.40" y1="415.96" x2="430.10" y2="415.96" stroke="#111" stroke-width="1.6"/>
<text x="388.88" y="420.14" font-size="12.00" textLength="26.70" lengthAdjust="spacingAndGlyphs" fill="#000">1600</text>
<line x1="420.40" y1="434.52" x2="430.10" y2="434.52" stroke="#111" stroke-width="1.6"/>
<text x="388.88" y="438.70" font-size="12.00" textLength="26.70" lengthAdjust="spacingAndGlyphs" fill="#000">1200</text>
<line x1="420.40" y1="453.08" x2="430.10" y2="453.08" stroke="#111" stroke-width="1.6"/>
<text x="395.54" y="457.26" font-size="12.00" textLength="20.02" lengthAdjust="spacingAndGlyphs" fill="#000">800</text>
<line x1="420.40" y1="471.64" x2="430.10" y2="471.64" stroke="#111" stroke-width="1.6"/>
<text x="395.54" y="475.82" font-size="12.00" textLength="20.02" lengthAdjust="spacingAndGlyphs" fill="#000">400</text>
<line x1="420.40" y1="490.20" x2="430.10" y2="490.20" stroke="#111" stroke-width="1.6"/>
<text x="408.89" y="494.38" font-size="12.00" textLength="6.67" lengthAdjust="spacingAndGlyphs" fill="#000">0</text>
<text transform="rotate(-90)" x="-469.30" y="384.45" font-size="13.34" textLength="51.90" lengthAdjust="spacingAndGlyphs" fill="#000">I (pA/pF)</text>
<text x="434.97" y="413.04" font-size="13.88" textLength="16.96" lengthAdjust="spacingAndGlyphs" fill="#000">(5)</text>
<line x1="442.40" y1="475.00" x2="513.75" y2="407.50" stroke="#000" stroke-width="1.5"/>
<line x1="442.40" y1="477.00" x2="513.75" y2="413.00" stroke="#000" stroke-width="1.5"/>
<line x1="442.40" y1="478.75" x2="513.75" y2="427.00" stroke="#000" stroke-width="1.5"/>
<line x1="442.40" y1="481.25" x2="513.75" y2="437.50" stroke="#000" stroke-width="1.5"/>
<line x1="442.40" y1="483.75" x2="513.75" y2="448.00" stroke="#000" stroke-width="1.5"/>
<line x1="508.00" y1="407.50" x2="520.50" y2="407.50" stroke="#c4c4c4" stroke-width="0.8"/>
<line x1="508.00" y1="413.00" x2="520.50" y2="413.00" stroke="#c4c4c4" stroke-width="0.8"/>
<line x1="508.00" y1="427.00" x2="520.50" y2="427.00" stroke="#c4c4c4" stroke-width="0.8"/>
<line x1="508.00" y1="437.50" x2="520.50" y2="437.50" stroke="#c4c4c4" stroke-width="0.8"/>
<line x1="508.00" y1="448.00" x2="520.50" y2="448.00" stroke="#c4c4c4" stroke-width="0.8"/>
<line x1="437.00" y1="475.00" x2="449.00" y2="475.00" stroke="#c4c4c4" stroke-width="0.8"/>
<line x1="437.00" y1="477.00" x2="449.00" y2="477.00" stroke="#c4c4c4" stroke-width="0.8"/>
<line x1="437.00" y1="478.75" x2="449.00" y2="478.75" stroke="#c4c4c4" stroke-width="0.8"/>
<line x1="437.00" y1="481.25" x2="449.00" y2="481.25" stroke="#c4c4c4" stroke-width="0.8"/>
<line x1="437.00" y1="483.75" x2="449.00" y2="483.75" stroke="#c4c4c4" stroke-width="0.8"/>
<circle cx="442.40" cy="475.00" r="3.6" fill="#ff0000"/>
<circle cx="442.40" cy="477.00" r="3.6" fill="#ff0000"/>
<circle cx="442.40" cy="478.75" r="3.6" fill="#ff0000"/>
<circle cx="442.40" cy="481.25" r="3.6" fill="#ff0000"/>
<circle cx="442.40" cy="483.75" r="3.6" fill="#ff0000"/>
<circle cx="513.75" cy="407.50" r="3.6" fill="#ff0000"/>
<circle cx="513.75" cy="413.00" r="3.6" fill="#ff0000"/>
<circle cx="513.75" cy="427.00" r="3.6" fill="#ff0000"/>
<circle cx="513.75" cy="437.50" r="3.6" fill="#ff0000"/>
<circle cx="513.75" cy="448.00" r="3.6" fill="#ff0000"/>
<text transform="translate(444.20,505.50) rotate(-45)" font-size="13.60" fill="#000" text-anchor="end">con</text>
<text transform="translate(528.20,499.90) rotate(-45)" font-size="13.60" fill="#ff0000" text-anchor="end">CCH</text>
<text x="533.08" y="394.91" font-size="25.00" textLength="9.13" lengthAdjust="spacingAndGlyphs" font-weight="bold" fill="#000">i</text>
<line x1="668.40" y1="393.20" x2="668.40" y2="512.80" stroke="#111" stroke-width="1.6"/>
<line x1="663.40" y1="394.00" x2="668.40" y2="394.00" stroke="#111" stroke-width="1.6"/>
<text x="651.92" y="398.19" font-size="12.00" textLength="6.67" lengthAdjust="spacingAndGlyphs" fill="#000">8</text>
<line x1="663.40" y1="417.60" x2="668.40" y2="417.60" stroke="#111" stroke-width="1.6"/>
<text x="651.95" y="421.78" font-size="12.00" textLength="6.67" lengthAdjust="spacingAndGlyphs" fill="#000">6</text>
<line x1="663.40" y1="441.20" x2="668.40" y2="441.20" stroke="#111" stroke-width="1.6"/>
<text x="651.77" y="445.38" font-size="12.00" textLength="6.67" lengthAdjust="spacingAndGlyphs" fill="#000">4</text>
<line x1="663.40" y1="464.80" x2="668.40" y2="464.80" stroke="#111" stroke-width="1.6"/>
<text x="652.01" y="468.98" font-size="12.00" textLength="6.67" lengthAdjust="spacingAndGlyphs" fill="#000">2</text>
<line x1="663.40" y1="512.00" x2="668.40" y2="512.00" stroke="#111" stroke-width="1.6"/>
<text x="648.02" y="516.18" font-size="12.00" textLength="10.67" lengthAdjust="spacingAndGlyphs" fill="#000">-2</text>
<line x1="663.40" y1="488.40" x2="668.40" y2="488.40" stroke="#111" stroke-width="1.6"/>
<text x="651.89" y="492.58" font-size="12.00" textLength="6.67" lengthAdjust="spacingAndGlyphs" fill="#000">0</text>
<line x1="608.30" y1="488.40" x2="727.50" y2="488.40" stroke="#111" stroke-width="1.8"/>
<line x1="608.30" y1="488.40" x2="608.30" y2="492.40" stroke="#111" stroke-width="1.5"/>
<line x1="620.22" y1="488.40" x2="620.22" y2="492.40" stroke="#111" stroke-width="1.5"/>
<line x1="632.14" y1="488.40" x2="632.14" y2="492.40" stroke="#111" stroke-width="1.5"/>
<line x1="644.06" y1="488.40" x2="644.06" y2="492.40" stroke="#111" stroke-width="1.5"/>
<line x1="655.98" y1="488.40" x2="655.98" y2="492.40" stroke="#111" stroke-width="1.5"/>
<line x1="667.90" y1="488.40" x2="667.90" y2="492.40" stroke="#111" stroke-width="1.5"/>
<line x1="679.82" y1="488.40" x2="679.82" y2="492.40" stroke="#111" stroke-width="1.5"/>
<line x1="691.74" y1="488.40" x2="691.74" y2="492.40" stroke="#111" stroke-width="1.5"/>
<line x1="703.66" y1="488.40" x2="703.66" y2="492.40" stroke="#111" stroke-width="1.5"/>
<line x1="715.58" y1="488.40" x2="715.58" y2="492.40" stroke="#111" stroke-width="1.5"/>
<line x1="727.50" y1="488.40" x2="727.50" y2="492.40" stroke="#111" stroke-width="1.5"/>
<text x="599.51" y="483.80" font-size="11.46" textLength="22.93" lengthAdjust="spacingAndGlyphs" fill="#000">-100</text>
<text x="716.66" y="506.30" font-size="11.25" textLength="18.78" lengthAdjust="spacingAndGlyphs" fill="#000">100</text>
<text x="676.22" y="506.75" font-size="12.18" textLength="34.52" lengthAdjust="spacingAndGlyphs" fill="#000">V(mV)</text>
<text transform="rotate(-90)" x="-422.37" y="682.71" font-size="12.39" textLength="26.85" lengthAdjust="spacingAndGlyphs" fill="#000">I(nA)</text>
<rect x="684.10" y="379.22" width="11.41" height="2.80" fill="#000"/>
<rect x="688.41" y="374.91" width="2.80" height="11.41" fill="#000"/>
<rect x="704.39" y="379.22" width="11.41" height="2.80" fill="#000"/>
<rect x="708.70" y="374.91" width="2.80" height="11.41" fill="#000"/>
<line x1="702.33" y1="372.73" x2="698.05" y2="388.17" stroke="#000" stroke-width="2.0874999999999986" stroke-linecap="round"/>
<text x="619.64" y="410.20" font-size="14.29" textLength="17.46" lengthAdjust="spacingAndGlyphs" fill="#000">(5)</text>
<text x="734.31" y="408.00" font-size="13.74" textLength="29.77" lengthAdjust="spacingAndGlyphs" fill="#ff0000">CCH</text>
<text x="733.92" y="482.00" font-size="13.62" textLength="21.96" lengthAdjust="spacingAndGlyphs" fill="#000">con</text>
<line x1="679.82" y1="471.17" x2="679.82" y2="467.50" stroke="#ff0000" stroke-width="1.1"/>
<line x1="677.82" y1="467.50" x2="681.82" y2="467.50" stroke="#ff0000" stroke-width="1.1"/>
<line x1="691.74" y1="453.35" x2="691.74" y2="450.00" stroke="#ff0000" stroke-width="1.1"/>
<line x1="689.74" y1="450.00" x2="693.74" y2="450.00" stroke="#ff0000" stroke-width="1.1"/>
<line x1="703.66" y1="434.83" x2="703.66" y2="428.75" stroke="#ff0000" stroke-width="1.1"/>
<line x1="701.66" y1="428.75" x2="705.66" y2="428.75" stroke="#ff0000" stroke-width="1.1"/>
<line x1="715.58" y1="412.29" x2="715.58" y2="403.75" stroke="#ff0000" stroke-width="1.1"/>
<line x1="713.58" y1="403.75" x2="717.58" y2="403.75" stroke="#ff0000" stroke-width="1.1"/>
<line x1="727.50" y1="385.27" x2="727.50" y2="371.25" stroke="#ff0000" stroke-width="1.1"/>
<line x1="725.50" y1="371.25" x2="729.50" y2="371.25" stroke="#ff0000" stroke-width="1.1"/>
<line x1="715.58" y1="475.42" x2="715.58" y2="472.50" stroke="#000" stroke-width="1.1"/>
<line x1="713.58" y1="472.50" x2="717.58" y2="472.50" stroke="#000" stroke-width="1.1"/>
<line x1="727.50" y1="474.59" x2="727.50" y2="470.50" stroke="#000" stroke-width="1.1"/>
<line x1="725.50" y1="470.50" x2="729.50" y2="470.50" stroke="#000" stroke-width="1.1"/>
<line x1="606.30" y1="515.20" x2="610.30" y2="515.20" stroke="#ff0000" stroke-width="1.1"/>
<path d="M608.30,492.18 L620.22,491.11 L632.14,490.41 L644.06,489.11 L655.98,487.46 L667.90,484.86 L679.82,482.85 L691.74,480.38 L703.66,477.43 L715.58,475.42 L727.50,474.59" stroke="#000" stroke-width="1.8" fill="none" stroke-linejoin="round"/>
<circle cx="608.30" cy="492.18" r="2.3" fill="#000"/>
<circle cx="620.22" cy="491.11" r="2.3" fill="#000"/>
<circle cx="632.14" cy="490.41" r="2.3" fill="#000"/>
<circle cx="644.06" cy="489.11" r="2.3" fill="#000"/>
<circle cx="655.98" cy="487.46" r="2.3" fill="#000"/>
<circle cx="667.90" cy="484.86" r="2.3" fill="#000"/>
<circle cx="679.82" cy="482.85" r="2.3" fill="#000"/>
<circle cx="691.74" cy="480.38" r="2.3" fill="#000"/>
<circle cx="703.66" cy="477.43" r="2.3" fill="#000"/>
<circle cx="715.58" cy="475.42" r="2.3" fill="#000"/>
<circle cx="727.50" cy="474.59" r="2.3" fill="#000"/>
<path d="M608.30,513.65 L620.22,509.88 L632.14,504.68 L644.06,498.43 L655.98,491.70 L667.90,482.85 L679.82,471.17 L691.74,453.35 L703.66,434.83 L715.58,412.29 L727.50,385.27" stroke="#ff0000" stroke-width="1.8" fill="none" stroke-linejoin="round"/>
<circle cx="608.30" cy="513.65" r="2.3" fill="#ff0000"/>
<circle cx="620.22" cy="509.88" r="2.3" fill="#ff0000"/>
<circle cx="632.14" cy="504.68" r="2.3" fill="#ff0000"/>
<circle cx="644.06" cy="498.43" r="2.3" fill="#ff0000"/>
<circle cx="655.98" cy="491.70" r="2.3" fill="#ff0000"/>
<circle cx="667.90" cy="482.85" r="2.3" fill="#ff0000"/>
<circle cx="679.82" cy="471.17" r="2.3" fill="#ff0000"/>
<circle cx="691.74" cy="453.35" r="2.3" fill="#ff0000"/>
<circle cx="703.66" cy="434.83" r="2.3" fill="#ff0000"/>
<circle cx="715.58" cy="412.29" r="2.3" fill="#ff0000"/>
<circle cx="727.50" cy="385.27" r="2.3" fill="#ff0000"/>
<text x="679.50" y="471.29" font-size="16.05" fill="#111" text-anchor="middle">*</text>
<text x="691.60" y="451.04" font-size="16.05" fill="#111" text-anchor="middle">*</text>
<text x="703.50" y="430.54" font-size="16.05" fill="#111" text-anchor="middle">*</text>
<text x="715.30" y="403.54" font-size="16.05" fill="#111" text-anchor="middle">*</text>
<text x="727.00" y="373.79" font-size="16.05" fill="#111" text-anchor="middle">*</text>
<text x="609.50" y="532.54" font-size="16.05" fill="#111" text-anchor="middle">*</text>
<text x="620.75" y="528.04" font-size="16.05" fill="#111" text-anchor="middle">*</text>
<text x="632.50" y="523.79" font-size="16.05" fill="#111" text-anchor="middle">*</text>
<text x="644.00" y="516.79" font-size="16.05" fill="#111" text-anchor="middle">*</text>
<text x="360.71" y="540.06" font-size="25.00" textLength="14.76" lengthAdjust="spacingAndGlyphs" font-weight="bold" fill="#000">k</text>
<line x1="430.10" y1="534.40" x2="430.10" y2="628.30" stroke="#111" stroke-width="1.6"/>
<line x1="420.40" y1="535.20" x2="430.10" y2="535.20" stroke="#111" stroke-width="1.6"/>
<text x="388.88" y="539.39" font-size="12.00" textLength="26.70" lengthAdjust="spacingAndGlyphs" fill="#000">2000</text>
<line x1="420.40" y1="553.66" x2="430.10" y2="553.66" stroke="#111" stroke-width="1.6"/>
<text x="388.88" y="557.85" font-size="12.00" textLength="26.70" lengthAdjust="spacingAndGlyphs" fill="#000">1600</text>
<line x1="420.40" y1="572.12" x2="430.10" y2="572.12" stroke="#111" stroke-width="1.6"/>
<text x="388.88" y="576.31" font-size="12.00" textLength="26.70" lengthAdjust="spacingAndGlyphs" fill="#000">1200</text>
<line x1="420.40" y1="590.58" x2="430.10" y2="590.58" stroke="#111" stroke-width="1.6"/>
<text x="395.54" y="594.77" font-size="12.00" textLength="20.02" lengthAdjust="spacingAndGlyphs" fill="#000">800</text>
<line x1="420.40" y1="609.04" x2="430.10" y2="609.04" stroke="#111" stroke-width="1.6"/>
<text x="395.54" y="613.23" font-size="12.00" textLength="20.02" lengthAdjust="spacingAndGlyphs" fill="#000">400</text>
<line x1="420.40" y1="627.50" x2="430.10" y2="627.50" stroke="#111" stroke-width="1.6"/>
<text x="408.89" y="631.69" font-size="12.00" textLength="6.67" lengthAdjust="spacingAndGlyphs" fill="#000">0</text>
<text transform="rotate(-90)" x="-607.20" y="384.46" font-size="13.37" textLength="52.00" lengthAdjust="spacingAndGlyphs" fill="#000">I (pA/pF)</text>
<text x="439.14" y="546.36" font-size="14.33" textLength="25.48" lengthAdjust="spacingAndGlyphs" fill="#000">(10)</text>
<rect x="472.10" y="544.91" width="6.27" height="3.33" fill="#000"/>
<rect x="486.73" y="544.91" width="6.27" height="3.33" fill="#000"/>
<line x1="485.27" y1="540.70" x2="481.19" y2="557.00" stroke="#000" stroke-width="2.0125" stroke-linecap="round"/>
<line x1="442.50" y1="596.25" x2="513.25" y2="596.25" stroke="#000" stroke-width="1.5"/>
<line x1="442.50" y1="615.00" x2="513.25" y2="606.25" stroke="#000" stroke-width="1.5"/>
<line x1="442.50" y1="620.00" x2="513.25" y2="612.50" stroke="#000" stroke-width="1.5"/>
<line x1="442.50" y1="623.75" x2="513.25" y2="618.75" stroke="#000" stroke-width="1.5"/>
<line x1="442.50" y1="625.00" x2="513.25" y2="621.25" stroke="#000" stroke-width="1.5"/>
<circle cx="442.50" cy="596.25" r="3.6" fill="#ff0000"/>
<circle cx="442.50" cy="615.00" r="3.6" fill="#ff0000"/>
<circle cx="442.50" cy="620.00" r="3.6" fill="#ff0000"/>
<circle cx="442.50" cy="623.75" r="3.6" fill="#ff0000"/>
<circle cx="442.50" cy="625.00" r="3.6" fill="#ff0000"/>
<circle cx="513.25" cy="596.25" r="3.6" fill="#ff0000"/>
<circle cx="513.25" cy="606.25" r="3.6" fill="#ff0000"/>
<circle cx="513.25" cy="612.50" r="3.6" fill="#ff0000"/>
<circle cx="513.25" cy="618.75" r="3.6" fill="#ff0000"/>
<circle cx="513.25" cy="621.25" r="3.6" fill="#ff0000"/>
<text transform="translate(446.70,644.70) rotate(-45)" font-size="13.60" fill="#000" text-anchor="end">con</text>
<text transform="translate(528.70,639.10) rotate(-45)" font-size="13.60" fill="#ff0000" text-anchor="end">CCH</text>
<text x="532.72" y="536.01" font-size="25.00" textLength="8.14" lengthAdjust="spacingAndGlyphs" font-weight="bold" fill="#000">l</text>
<line x1="668.75" y1="527.95" x2="668.75" y2="648.30" stroke="#111" stroke-width="1.6"/>
<line x1="663.75" y1="528.75" x2="668.75" y2="528.75" stroke="#111" stroke-width="1.6"/>
<text x="652.27" y="532.94" font-size="12.00" textLength="6.67" lengthAdjust="spacingAndGlyphs" fill="#000">8</text>
<line x1="663.75" y1="552.50" x2="668.75" y2="552.50" stroke="#111" stroke-width="1.6"/>
<text x="652.30" y="556.69" font-size="12.00" textLength="6.67" lengthAdjust="spacingAndGlyphs" fill="#000">6</text>
<line x1="663.75" y1="576.25" x2="668.75" y2="576.25" stroke="#111" stroke-width="1.6"/>
<text x="652.12" y="580.44" font-size="12.00" textLength="6.67" lengthAdjust="spacingAndGlyphs" fill="#000">4</text>
<line x1="663.75" y1="600.00" x2="668.75" y2="600.00" stroke="#111" stroke-width="1.6"/>
<text x="652.36" y="604.19" font-size="12.00" textLength="6.67" lengthAdjust="spacingAndGlyphs" fill="#000">2</text>
<line x1="663.75" y1="647.50" x2="668.75" y2="647.50" stroke="#111" stroke-width="1.6"/>
<text x="648.37" y="651.69" font-size="12.00" textLength="10.67" lengthAdjust="spacingAndGlyphs" fill="#000">-2</text>
<line x1="663.75" y1="623.75" x2="668.75" y2="623.75" stroke="#111" stroke-width="1.6"/>
<text x="652.24" y="627.94" font-size="12.00" textLength="6.67" lengthAdjust="spacingAndGlyphs" fill="#000">0</text>
<line x1="609.25" y1="623.75" x2="727.20" y2="623.75" stroke="#111" stroke-width="1.8"/>
<line x1="609.25" y1="623.75" x2="609.25" y2="627.75" stroke="#111" stroke-width="1.5"/>
<line x1="621.03" y1="623.75" x2="621.03" y2="627.75" stroke="#111" stroke-width="1.5"/>
<line x1="632.81" y1="623.75" x2="632.81" y2="627.75" stroke="#111" stroke-width="1.5"/>
<line x1="644.59" y1="623.75" x2="644.59" y2="627.75" stroke="#111" stroke-width="1.5"/>
<line x1="656.37" y1="623.75" x2="656.37" y2="627.75" stroke="#111" stroke-width="1.5"/>
<line x1="668.15" y1="623.75" x2="668.15" y2="627.75" stroke="#111" stroke-width="1.5"/>
<line x1="679.93" y1="623.75" x2="679.93" y2="627.75" stroke="#111" stroke-width="1.5"/>
<line x1="691.71" y1="623.75" x2="691.71" y2="627.75" stroke="#111" stroke-width="1.5"/>
<line x1="703.49" y1="623.75" x2="703.49" y2="627.75" stroke="#111" stroke-width="1.5"/>
<line x1="715.27" y1="623.75" x2="715.27" y2="627.75" stroke="#111" stroke-width="1.5"/>
<line x1="727.05" y1="623.75" x2="727.05" y2="627.75" stroke="#111" stroke-width="1.5"/>
<text x="599.51" y="620.00" font-size="11.46" textLength="22.93" lengthAdjust="spacingAndGlyphs" fill="#000">-100</text>
<text x="716.66" y="640.50" font-size="11.25" textLength="18.78" lengthAdjust="spacingAndGlyphs" fill="#000">100</text>
<text x="678.72" y="645.08" font-size="11.91" textLength="33.75" lengthAdjust="spacingAndGlyphs" fill="#000">V(mV)</text>
<text transform="rotate(-90)" x="-549.87" y="682.71" font-size="12.39" textLength="26.85" lengthAdjust="spacingAndGlyphs" fill="#000">I(nA)</text>
<text x="622.44" y="543.67" font-size="13.42" textLength="23.87" lengthAdjust="spacingAndGlyphs" fill="#000">(10)</text>
<rect x="699.00" y="545.86" width="6.30" height="3.29" fill="#000"/>
<rect x="713.70" y="545.86" width="6.30" height="3.29" fill="#000"/>
<line x1="712.23" y1="541.70" x2="708.13" y2="557.80" stroke="#000" stroke-width="1.989499999999995" stroke-linecap="round"/>
<text x="734.83" y="591.25" font-size="13.50" textLength="29.24" lengthAdjust="spacingAndGlyphs" fill="#ff0000">CCH</text>
<text x="738.19" y="613.25" font-size="13.29" textLength="21.43" lengthAdjust="spacingAndGlyphs" fill="#000">con</text>
<line x1="703.49" y1="611.28" x2="703.49" y2="609.50" stroke="#ff0000" stroke-width="1.1"/>
<line x1="701.49" y1="609.50" x2="705.49" y2="609.50" stroke="#ff0000" stroke-width="1.1"/>
<line x1="715.27" y1="606.29" x2="715.27" y2="603.50" stroke="#ff0000" stroke-width="1.1"/>
<line x1="713.27" y1="603.50" x2="717.27" y2="603.50" stroke="#ff0000" stroke-width="1.1"/>
<line x1="727.05" y1="599.29" x2="727.05" y2="593.50" stroke="#ff0000" stroke-width="1.1"/>
<line x1="725.05" y1="593.50" x2="729.05" y2="593.50" stroke="#ff0000" stroke-width="1.1"/>
<path d="M609.25,633.01 L621.03,630.52 L632.81,628.02 L644.59,626.24 L656.37,624.46 L668.15,621.73 L679.93,618.76 L691.71,615.79 L703.49,611.28 L715.27,606.29 L727.05,599.29" stroke="#ff0000" stroke-width="1.8" fill="none" stroke-linejoin="round"/>
<circle cx="609.25" cy="633.01" r="2.3" fill="#ff0000"/>
<circle cx="621.03" cy="630.52" r="2.3" fill="#ff0000"/>
<circle cx="632.81" cy="628.02" r="2.3" fill="#ff0000"/>
<circle cx="644.59" cy="626.24" r="2.3" fill="#ff0000"/>
<circle cx="656.37" cy="624.46" r="2.3" fill="#ff0000"/>
<circle cx="668.15" cy="621.73" r="2.3" fill="#ff0000"/>
<circle cx="679.93" cy="618.76" r="2.3" fill="#ff0000"/>
<circle cx="691.71" cy="615.79" r="2.3" fill="#ff0000"/>
<circle cx="703.49" cy="611.28" r="2.3" fill="#ff0000"/>
<circle cx="715.27" cy="606.29" r="2.3" fill="#ff0000"/>
<circle cx="727.05" cy="599.29" r="2.3" fill="#ff0000"/>
<path d="M609.25,631.71 L621.03,630.04 L632.81,628.02 L644.59,626.24 L656.37,624.46 L668.15,621.73 L679.93,619.24 L691.71,617.46 L703.49,614.96 L715.27,611.28 L727.05,607.48" stroke="#000" stroke-width="1.8" fill="none" stroke-linejoin="round"/>
<circle cx="609.25" cy="631.71" r="2.3" fill="#000"/>
<circle cx="621.03" cy="630.04" r="2.3" fill="#000"/>
<circle cx="632.81" cy="628.02" r="2.3" fill="#000"/>
<circle cx="644.59" cy="626.24" r="2.3" fill="#000"/>
<circle cx="656.37" cy="624.46" r="2.3" fill="#000"/>
<circle cx="668.15" cy="621.73" r="2.3" fill="#000"/>
<circle cx="679.93" cy="619.24" r="2.3" fill="#000"/>
<circle cx="691.71" cy="617.46" r="2.3" fill="#000"/>
<circle cx="703.49" cy="614.96" r="2.3" fill="#000"/>
<circle cx="715.27" cy="611.28" r="2.3" fill="#000"/>
<circle cx="727.05" cy="607.48" r="2.3" fill="#000"/>
<text x="680.00" y="613.90" font-size="11.47" fill="#222" text-anchor="middle">#</text>
<text x="692.00" y="609.65" font-size="11.47" fill="#222" text-anchor="middle">#</text>
<text x="703.50" y="607.15" font-size="11.47" fill="#222" text-anchor="middle">#</text>
<text x="715.50" y="599.65" font-size="11.47" fill="#222" text-anchor="middle">#</text>
<text x="727.30" y="594.40" font-size="11.47" fill="#222" text-anchor="middle">#</text>
<text x="609.50" y="647.65" font-size="11.47" fill="#222" text-anchor="middle">#</text>
<text x="621.00" y="643.40" font-size="11.47" fill="#222" text-anchor="middle">#</text>
<text x="632.50" y="641.90" font-size="11.47" fill="#222" text-anchor="middle">#</text>
<text x="728.00" y="667.14" font-size="16.05" fill="#111" text-anchor="middle">*</text>
<text x="-0.45" y="675.47" font-size="25.00" textLength="23.32" lengthAdjust="spacingAndGlyphs" font-weight="bold" fill="#000">m</text>
<rect x="110.00" y="680.75" width="65.50" height="18.75" fill="#000"/>
<text x="124.62" y="696.88" font-size="20.60" textLength="33.21" lengthAdjust="spacingAndGlyphs" fill="#fff">con</text>
<rect x="219.40" y="681.00" width="65.10" height="18.70" fill="#000"/>
<text x="224.01" y="697.03" font-size="17.20" textLength="55.98" lengthAdjust="spacingAndGlyphs" fill="#fff">cAMP</text>
<rect x="318.00" y="679.60" width="77.50" height="46.90" fill="#000"/>
<text x="319.94" y="697.70" font-size="20.28" textLength="65.95" lengthAdjust="spacingAndGlyphs" fill="#fff">cAMP+</text>
<text x="319.50" y="720.20" font-size="20.40" fill="#fff"><tspan>CFTR</tspan><tspan font-size="11.60" dy="3.60">inh</tspan></text>
<text x="4.69" y="771.26" font-size="15.70" textLength="96.83" lengthAdjust="spacingAndGlyphs" fill="#000">TMEM16A+/+</text>
<rect x="110.00" y="787.50" width="71.25" height="12.50" fill="#000"/>
<line x1="111.50" y1="790.20" x2="180.00" y2="790.20" stroke="#9a9a9a" stroke-width="0.7"/>
<line x1="111.50" y1="792.40" x2="180.00" y2="792.40" stroke="#9a9a9a" stroke-width="0.7"/>
<line x1="111.50" y1="794.60" x2="180.00" y2="794.60" stroke="#9a9a9a" stroke-width="0.7"/>
<line x1="111.50" y1="796.80" x2="180.00" y2="796.80" stroke="#9a9a9a" stroke-width="0.7"/>
<line x1="102.00" y1="800.75" x2="110.00" y2="800.75" stroke="#000" stroke-width="1.3"/>
<line x1="181.25" y1="800.00" x2="188.00" y2="800.00" stroke="#000" stroke-width="1.3"/>
<line x1="214.60" y1="736.90" x2="214.60" y2="810.40" stroke="#1414f5" stroke-width="1.3"/>
<line x1="285.90" y1="740.50" x2="285.90" y2="806.80" stroke="#1414f5" stroke-width="1.3"/>
<line x1="214.60" y1="736.90" x2="285.90" y2="740.50" stroke="#1414f5" stroke-width="1.45"/>
<line x1="214.60" y1="749.50" x2="285.90" y2="749.20" stroke="#1414f5" stroke-width="1.45"/>
<line x1="214.60" y1="758.40" x2="285.90" y2="758.10" stroke="#1414f5" stroke-width="1.45"/>
<line x1="214.60" y1="767.10" x2="285.90" y2="766.80" stroke="#1414f5" stroke-width="1.45"/>
<line x1="214.60" y1="774.60" x2="285.90" y2="774.30" stroke="#1414f5" stroke-width="1.45"/>
<line x1="214.60" y1="781.60" x2="285.90" y2="781.30" stroke="#1414f5" stroke-width="1.45"/>
<line x1="214.60" y1="788.00" x2="285.90" y2="787.70" stroke="#1414f5" stroke-width="1.45"/>
<line x1="214.60" y1="794.20" x2="285.90" y2="793.90" stroke="#1414f5" stroke-width="1.45"/>
<line x1="214.60" y1="799.20" x2="285.90" y2="798.90" stroke="#1414f5" stroke-width="1.45"/>
<line x1="214.60" y1="804.00" x2="285.90" y2="803.70" stroke="#1414f5" stroke-width="1.45"/>
<line x1="214.60" y1="810.40" x2="285.90" y2="806.80" stroke="#1414f5" stroke-width="1.45"/>
<line x1="207.30" y1="789.00" x2="214.60" y2="789.00" stroke="#1414f5" stroke-width="0.7"/>
<line x1="207.30" y1="792.00" x2="214.60" y2="792.00" stroke="#1414f5" stroke-width="0.7"/>
<line x1="207.30" y1="795.00" x2="214.60" y2="795.00" stroke="#1414f5" stroke-width="0.7"/>
<line x1="207.30" y1="798.00" x2="214.60" y2="798.00" stroke="#1414f5" stroke-width="0.7"/>
<line x1="207.30" y1="801.00" x2="214.60" y2="801.00" stroke="#1414f5" stroke-width="0.7"/>
<line x1="207.30" y1="804.00" x2="214.60" y2="804.00" stroke="#1414f5" stroke-width="0.7"/>
<line x1="207.30" y1="807.00" x2="214.60" y2="807.00" stroke="#1414f5" stroke-width="0.7"/>
<line x1="207.30" y1="809.60" x2="214.60" y2="809.60" stroke="#1414f5" stroke-width="0.7"/>
<line x1="207.80" y1="786.00" x2="207.80" y2="809.60" stroke="#1414f5" stroke-width="1.0"/>
<line x1="285.90" y1="789.00" x2="292.90" y2="789.00" stroke="#1414f5" stroke-width="0.8"/>
<line x1="285.90" y1="791.50" x2="292.90" y2="791.50" stroke="#1414f5" stroke-width="0.8"/>
<line x1="285.90" y1="794.00" x2="292.90" y2="794.00" stroke="#1414f5" stroke-width="0.8"/>
<line x1="285.90" y1="796.50" x2="292.90" y2="796.50" stroke="#1414f5" stroke-width="0.8"/>
<line x1="285.90" y1="799.00" x2="292.90" y2="799.00" stroke="#1414f5" stroke-width="0.8"/>
<line x1="285.90" y1="801.50" x2="292.90" y2="801.50" stroke="#1414f5" stroke-width="0.8"/>
<line x1="285.90" y1="804.00" x2="292.90" y2="804.00" stroke="#1414f5" stroke-width="0.8"/>
<line x1="292.50" y1="788.50" x2="292.50" y2="804.00" stroke="#1414f5" stroke-width="1.0"/>
<line x1="312.40" y1="770.40" x2="312.40" y2="812.40" stroke="#1c3ca8" stroke-width="1.3"/>
<line x1="383.70" y1="775.20" x2="383.70" y2="811.00" stroke="#1c3ca8" stroke-width="1.3"/>
<line x1="312.40" y1="770.90" x2="383.70" y2="773.90" stroke="#1c3ca8" stroke-width="1.4"/>
<line x1="312.40" y1="776.90" x2="383.70" y2="776.90" stroke="#1c3ca8" stroke-width="1.4"/>
<line x1="312.40" y1="780.80" x2="383.70" y2="780.80" stroke="#1c3ca8" stroke-width="1.4"/>
<line x1="312.40" y1="784.40" x2="383.70" y2="784.40" stroke="#1c3ca8" stroke-width="1.4"/>
<line x1="312.40" y1="788.00" x2="383.70" y2="788.00" stroke="#1c3ca8" stroke-width="1.4"/>
<line x1="312.40" y1="792.00" x2="383.70" y2="792.00" stroke="#1c3ca8" stroke-width="1.4"/>
<line x1="312.40" y1="795.60" x2="383.70" y2="795.60" stroke="#1c3ca8" stroke-width="1.4"/>
<line x1="312.40" y1="799.20" x2="383.70" y2="799.20" stroke="#1c3ca8" stroke-width="1.4"/>
<line x1="312.40" y1="803.10" x2="383.70" y2="803.10" stroke="#1c3ca8" stroke-width="1.4"/>
<line x1="312.40" y1="806.80" x2="383.70" y2="806.80" stroke="#1c3ca8" stroke-width="1.4"/>
<line x1="312.40" y1="811.00" x2="383.70" y2="811.00" stroke="#1c3ca8" stroke-width="1.4"/>
<line x1="383.70" y1="781.60" x2="390.00" y2="781.60" stroke="#1c3ca8" stroke-width="0.8"/>
<line x1="383.70" y1="784.00" x2="390.00" y2="784.00" stroke="#1c3ca8" stroke-width="0.8"/>
<line x1="383.70" y1="786.50" x2="390.00" y2="786.50" stroke="#1c3ca8" stroke-width="0.8"/>
<line x1="383.70" y1="789.00" x2="390.00" y2="789.00" stroke="#1c3ca8" stroke-width="0.8"/>
<line x1="383.70" y1="791.50" x2="390.00" y2="791.50" stroke="#1c3ca8" stroke-width="0.8"/>
<line x1="383.70" y1="794.00" x2="390.00" y2="794.00" stroke="#1c3ca8" stroke-width="0.8"/>
<line x1="383.70" y1="796.50" x2="390.00" y2="796.50" stroke="#1c3ca8" stroke-width="0.8"/>
<line x1="383.70" y1="798.40" x2="390.00" y2="798.40" stroke="#1c3ca8" stroke-width="0.8"/>
<line x1="390.00" y1="781.60" x2="390.00" y2="798.40" stroke="#1c3ca8" stroke-width="1.0"/>
<line x1="390.00" y1="795.60" x2="396.90" y2="795.60" stroke="#1c3ca8" stroke-width="2.2"/>
<text x="3.70" y="836.06" font-size="25.00" textLength="16.93" lengthAdjust="spacingAndGlyphs" font-weight="bold" fill="#000">p</text>
<rect x="108.00" y="863.75" width="65.75" height="18.75" fill="#000"/>
<text x="123.12" y="880.92" font-size="20.73" textLength="33.43" lengthAdjust="spacingAndGlyphs" fill="#fff">con</text>
<rect x="217.40" y="864.20" width="65.70" height="18.70" fill="#000"/>
<text x="222.62" y="880.33" font-size="17.20" textLength="55.15" lengthAdjust="spacingAndGlyphs" fill="#fff">cAMP</text>
<rect x="315.80" y="862.80" width="78.30" height="47.20" fill="#000"/>
<text x="317.74" y="881.10" font-size="20.28" textLength="65.95" lengthAdjust="spacingAndGlyphs" fill="#fff">cAMP+</text>
<text x="317.30" y="903.60" font-size="20.40" fill="#fff"><tspan>CFTR</tspan><tspan font-size="11.60" dy="3.60">inh</tspan></text>
<line x1="52.50" y1="867.00" x2="52.50" y2="887.00" stroke="#000" stroke-width="1.3"/>
<line x1="51.85" y1="887.00" x2="88.25" y2="887.00" stroke="#000" stroke-width="1.3"/>
<text x="19.40" y="880.62" font-size="12.09" textLength="24.88" lengthAdjust="spacingAndGlyphs" fill="#000">2 nA</text>
<text x="50.81" y="901.83" font-size="11.86" textLength="38.23" lengthAdjust="spacingAndGlyphs" fill="#000">0.5 sec</text>
<text x="5.93" y="930.71" font-size="15.83" textLength="89.73" lengthAdjust="spacingAndGlyphs" fill="#000">TMEM16A-/-</text>
<line x1="95.75" y1="952.50" x2="103.00" y2="952.50" stroke="#000" stroke-width="1.3"/>
<line x1="103.00" y1="945.00" x2="103.00" y2="953.50" stroke="#000" stroke-width="1.3"/>
<rect x="103.00" y="948.60" width="72.00" height="3.80" fill="#000"/>
<line x1="103.00" y1="947.60" x2="175.00" y2="949.00" stroke="#000" stroke-width="1.0"/>
<line x1="175.00" y1="948.50" x2="175.00" y2="954.50" stroke="#000" stroke-width="1.2"/>
<line x1="175.00" y1="952.30" x2="181.25" y2="952.30" stroke="#000" stroke-width="1.3"/>
<line x1="209.60" y1="938.80" x2="209.60" y2="957.00" stroke="#1414f5" stroke-width="1.3"/>
<rect x="209.60" y="939.90" width="72.10" height="15.70" fill="#1414f5"/>
<line x1="211.00" y1="942.00" x2="281.00" y2="942.00" stroke="#6a6aff" stroke-width="0.45"/>
<line x1="211.00" y1="944.50" x2="281.00" y2="944.50" stroke="#6a6aff" stroke-width="0.45"/>
<line x1="211.00" y1="947.00" x2="281.00" y2="947.00" stroke="#6a6aff" stroke-width="0.45"/>
<line x1="211.00" y1="949.30" x2="281.00" y2="949.30" stroke="#6a6aff" stroke-width="0.45"/>
<line x1="211.00" y1="951.50" x2="281.00" y2="951.50" stroke="#6a6aff" stroke-width="0.45"/>
<line x1="211.00" y1="953.50" x2="281.00" y2="953.50" stroke="#6a6aff" stroke-width="0.45"/>
<rect x="202.60" y="950.00" width="7.00" height="8.40" fill="#1414f5"/>
<rect x="281.70" y="950.80" width="6.70" height="3.40" fill="#1414f5"/>
<rect x="313.00" y="944.40" width="72.70" height="9.20" fill="#1c3ca8"/>
<line x1="313.00" y1="943.60" x2="313.00" y2="954.20" stroke="#1c3ca8" stroke-width="1.2"/>
<rect x="306.90" y="950.00" width="6.10" height="4.20" fill="#1c3ca8"/>
<line x1="385.70" y1="951.40" x2="392.70" y2="951.40" stroke="#1c3ca8" stroke-width="1.5"/>
<line x1="385.70" y1="945.50" x2="385.70" y2="953.60" stroke="#1c3ca8" stroke-width="1.2"/>
<text x="411.91" y="678.59" font-size="25.00" textLength="17.32" lengthAdjust="spacingAndGlyphs" font-weight="bold" fill="#000">n</text>
<line x1="485.75" y1="680.45" x2="485.75" y2="775.05" stroke="#111" stroke-width="1.6"/>
<line x1="475.95" y1="681.25" x2="485.75" y2="681.25" stroke="#111" stroke-width="1.6"/>
<text x="444.73" y="685.44" font-size="12.00" textLength="26.70" lengthAdjust="spacingAndGlyphs" fill="#000">2000</text>
<line x1="475.95" y1="699.85" x2="485.75" y2="699.85" stroke="#111" stroke-width="1.6"/>
<text x="444.73" y="704.04" font-size="12.00" textLength="26.70" lengthAdjust="spacingAndGlyphs" fill="#000">1600</text>
<line x1="475.95" y1="718.45" x2="485.75" y2="718.45" stroke="#111" stroke-width="1.6"/>
<text x="444.73" y="722.64" font-size="12.00" textLength="26.70" lengthAdjust="spacingAndGlyphs" fill="#000">1200</text>
<line x1="475.95" y1="737.05" x2="485.75" y2="737.05" stroke="#111" stroke-width="1.6"/>
<text x="451.39" y="741.24" font-size="12.00" textLength="20.02" lengthAdjust="spacingAndGlyphs" fill="#000">800</text>
<line x1="475.95" y1="755.65" x2="485.75" y2="755.65" stroke="#111" stroke-width="1.6"/>
<text x="451.39" y="759.84" font-size="12.00" textLength="20.02" lengthAdjust="spacingAndGlyphs" fill="#000">400</text>
<line x1="475.95" y1="774.25" x2="485.75" y2="774.25" stroke="#111" stroke-width="1.6"/>
<text x="464.74" y="778.44" font-size="12.00" textLength="6.67" lengthAdjust="spacingAndGlyphs" fill="#000">0</text>
<text transform="rotate(-90)" x="-754.40" y="440.24" font-size="13.29" textLength="51.69" lengthAdjust="spacingAndGlyphs" fill="#000">I (pA/pF)</text>
<text x="490.39" y="696.46" font-size="14.33" textLength="25.48" lengthAdjust="spacingAndGlyphs" fill="#000">(10)</text>
<rect x="520.00" y="686.60" width="11.59" height="2.84" fill="#000"/>
<rect x="524.38" y="682.22" width="2.84" height="11.59" fill="#000"/>
<rect x="540.61" y="686.60" width="11.59" height="2.84" fill="#000"/>
<rect x="544.98" y="682.22" width="2.84" height="11.59" fill="#000"/>
<line x1="538.51" y1="679.94" x2="534.17" y2="695.76" stroke="#000" stroke-width="2.137500000000003" stroke-linecap="round"/>
<line x1="498.75" y1="748.75" x2="569.50" y2="690.50" stroke="#000" stroke-width="1.5"/>
<line x1="498.75" y1="768.00" x2="569.50" y2="698.00" stroke="#000" stroke-width="1.5"/>
<line x1="498.75" y1="766.50" x2="569.50" y2="706.25" stroke="#000" stroke-width="1.5"/>
<line x1="498.75" y1="762.50" x2="569.50" y2="727.00" stroke="#000" stroke-width="1.5"/>
<line x1="498.75" y1="770.50" x2="569.50" y2="744.25" stroke="#000" stroke-width="1.5"/>
<line x1="498.75" y1="769.50" x2="569.50" y2="749.50" stroke="#000" stroke-width="1.5"/>
<line x1="498.75" y1="771.50" x2="569.50" y2="757.50" stroke="#000" stroke-width="1.5"/>
<line x1="498.75" y1="765.00" x2="569.50" y2="763.75" stroke="#000" stroke-width="1.5"/>
<line x1="498.75" y1="772.50" x2="569.50" y2="767.50" stroke="#000" stroke-width="1.5"/>
<line x1="498.75" y1="768.50" x2="569.50" y2="768.75" stroke="#000" stroke-width="1.5"/>
<line x1="564.00" y1="690.50" x2="576.00" y2="690.50" stroke="#c4c4c4" stroke-width="0.8"/>
<line x1="564.00" y1="698.00" x2="576.00" y2="698.00" stroke="#c4c4c4" stroke-width="0.8"/>
<line x1="564.00" y1="706.25" x2="576.00" y2="706.25" stroke="#c4c4c4" stroke-width="0.8"/>
<line x1="564.00" y1="727.00" x2="576.00" y2="727.00" stroke="#c4c4c4" stroke-width="0.8"/>
<line x1="564.00" y1="744.25" x2="576.00" y2="744.25" stroke="#c4c4c4" stroke-width="0.8"/>
<line x1="564.00" y1="749.50" x2="576.00" y2="749.50" stroke="#c4c4c4" stroke-width="0.8"/>
<line x1="564.00" y1="757.50" x2="576.00" y2="757.50" stroke="#c4c4c4" stroke-width="0.8"/>
<line x1="564.00" y1="763.75" x2="576.00" y2="763.75" stroke="#c4c4c4" stroke-width="0.8"/>
<line x1="564.00" y1="767.50" x2="576.00" y2="767.50" stroke="#c4c4c4" stroke-width="0.8"/>
<line x1="564.00" y1="768.75" x2="576.00" y2="768.75" stroke="#c4c4c4" stroke-width="0.8"/>
<line x1="493.00" y1="748.75" x2="505.00" y2="748.75" stroke="#c4c4c4" stroke-width="0.8"/>
<line x1="493.00" y1="762.50" x2="505.00" y2="762.50" stroke="#c4c4c4" stroke-width="0.8"/>
<line x1="493.00" y1="765.00" x2="505.00" y2="765.00" stroke="#c4c4c4" stroke-width="0.8"/>
<line x1="493.00" y1="766.50" x2="505.00" y2="766.50" stroke="#c4c4c4" stroke-width="0.8"/>
<line x1="493.00" y1="768.00" x2="505.00" y2="768.00" stroke="#c4c4c4" stroke-width="0.8"/>
<line x1="493.00" y1="769.50" x2="505.00" y2="769.50" stroke="#c4c4c4" stroke-width="0.8"/>
<line x1="493.00" y1="770.50" x2="505.00" y2="770.50" stroke="#c4c4c4" stroke-width="0.8"/>
<line x1="493.00" y1="771.50" x2="505.00" y2="771.50" stroke="#c4c4c4" stroke-width="0.8"/>
<line x1="493.00" y1="772.50" x2="505.00" y2="772.50" stroke="#c4c4c4" stroke-width="0.8"/>
<line x1="493.00" y1="768.50" x2="505.00" y2="768.50" stroke="#c4c4c4" stroke-width="0.8"/>
<circle cx="498.75" cy="748.75" r="3.6" fill="#1414f5"/>
<circle cx="498.75" cy="768.00" r="3.6" fill="#1414f5"/>
<circle cx="498.75" cy="766.50" r="3.6" fill="#1414f5"/>
<circle cx="498.75" cy="762.50" r="3.6" fill="#1414f5"/>
<circle cx="498.75" cy="770.50" r="3.6" fill="#1414f5"/>
<circle cx="498.75" cy="769.50" r="3.6" fill="#1414f5"/>
<circle cx="498.75" cy="771.50" r="3.6" fill="#1414f5"/>
<circle cx="498.75" cy="765.00" r="3.6" fill="#1414f5"/>
<circle cx="498.75" cy="772.50" r="3.6" fill="#1414f5"/>
<circle cx="498.75" cy="768.50" r="3.6" fill="#1414f5"/>
<circle cx="569.50" cy="690.50" r="3.6" fill="#1414f5"/>
<circle cx="569.50" cy="698.00" r="3.6" fill="#1414f5"/>
<circle cx="569.50" cy="706.25" r="3.6" fill="#1414f5"/>
<circle cx="569.50" cy="727.00" r="3.6" fill="#1414f5"/>
<circle cx="569.50" cy="744.25" r="3.6" fill="#1414f5"/>
<circle cx="569.50" cy="749.50" r="3.6" fill="#1414f5"/>
<circle cx="569.50" cy="757.50" r="3.6" fill="#1414f5"/>
<circle cx="569.50" cy="763.75" r="3.6" fill="#1414f5"/>
<circle cx="569.50" cy="767.50" r="3.6" fill="#1414f5"/>
<circle cx="569.50" cy="768.75" r="3.6" fill="#1414f5"/>
<text x="572.50" y="707.91" font-size="15.79" fill="#222" text-anchor="middle">*</text>
<text transform="translate(500.50,789.20) rotate(-45)" font-size="13.60" fill="#000" text-anchor="end">con</text>
<text transform="translate(581.70,783.80) rotate(-45)" font-size="13.60" fill="#1414f5" text-anchor="end">cAMP</text>
<text x="586.45" y="677.64" font-size="25.00" textLength="15.53" lengthAdjust="spacingAndGlyphs" font-weight="bold" fill="#000">o</text>
<line x1="669.40" y1="682.88" x2="669.40" y2="802.88" stroke="#111" stroke-width="1.6"/>
<line x1="664.40" y1="683.68" x2="669.40" y2="683.68" stroke="#111" stroke-width="1.6"/>
<text x="652.92" y="687.87" font-size="12.00" textLength="6.67" lengthAdjust="spacingAndGlyphs" fill="#000">8</text>
<line x1="664.40" y1="707.36" x2="669.40" y2="707.36" stroke="#111" stroke-width="1.6"/>
<text x="652.95" y="711.55" font-size="12.00" textLength="6.67" lengthAdjust="spacingAndGlyphs" fill="#000">6</text>
<line x1="664.40" y1="731.04" x2="669.40" y2="731.04" stroke="#111" stroke-width="1.6"/>
<text x="652.77" y="735.23" font-size="12.00" textLength="6.67" lengthAdjust="spacingAndGlyphs" fill="#000">4</text>
<line x1="664.40" y1="754.72" x2="669.40" y2="754.72" stroke="#111" stroke-width="1.6"/>
<text x="653.01" y="758.91" font-size="12.00" textLength="6.67" lengthAdjust="spacingAndGlyphs" fill="#000">2</text>
<line x1="664.40" y1="802.08" x2="669.40" y2="802.08" stroke="#111" stroke-width="1.6"/>
<text x="649.02" y="806.26" font-size="12.00" textLength="10.67" lengthAdjust="spacingAndGlyphs" fill="#000">-2</text>
<line x1="664.40" y1="778.40" x2="669.40" y2="778.40" stroke="#111" stroke-width="1.6"/>
<text x="652.89" y="782.59" font-size="12.00" textLength="6.67" lengthAdjust="spacingAndGlyphs" fill="#000">0</text>
<line x1="610.20" y1="778.40" x2="728.10" y2="778.40" stroke="#111" stroke-width="1.8"/>
<line x1="610.20" y1="778.40" x2="610.20" y2="782.40" stroke="#111" stroke-width="1.5"/>
<line x1="621.99" y1="778.40" x2="621.99" y2="782.40" stroke="#111" stroke-width="1.5"/>
<line x1="633.78" y1="778.40" x2="633.78" y2="782.40" stroke="#111" stroke-width="1.5"/>
<line x1="645.57" y1="778.40" x2="645.57" y2="782.40" stroke="#111" stroke-width="1.5"/>
<line x1="657.36" y1="778.40" x2="657.36" y2="782.40" stroke="#111" stroke-width="1.5"/>
<line x1="669.15" y1="778.40" x2="669.15" y2="782.40" stroke="#111" stroke-width="1.5"/>
<line x1="680.94" y1="778.40" x2="680.94" y2="782.40" stroke="#111" stroke-width="1.5"/>
<line x1="692.73" y1="778.40" x2="692.73" y2="782.40" stroke="#111" stroke-width="1.5"/>
<line x1="704.52" y1="778.40" x2="704.52" y2="782.40" stroke="#111" stroke-width="1.5"/>
<line x1="716.31" y1="778.40" x2="716.31" y2="782.40" stroke="#111" stroke-width="1.5"/>
<line x1="728.10" y1="778.40" x2="728.10" y2="782.40" stroke="#111" stroke-width="1.5"/>
<text x="599.99" y="774.10" font-size="11.93" textLength="23.87" lengthAdjust="spacingAndGlyphs" fill="#000">-100</text>
<text x="716.37" y="796.00" font-size="12.35" textLength="20.60" lengthAdjust="spacingAndGlyphs" fill="#000">100</text>
<text x="675.97" y="803.09" font-size="12.35" textLength="34.98" lengthAdjust="spacingAndGlyphs" fill="#000">V(mV)</text>
<text transform="rotate(-90)" x="-711.62" y="683.81" font-size="12.39" textLength="26.85" lengthAdjust="spacingAndGlyphs" fill="#000">I(nA)</text>
<text x="619.95" y="699.98" font-size="14.24" textLength="25.32" lengthAdjust="spacingAndGlyphs" fill="#000">(10)</text>
<rect x="693.00" y="684.75" width="11.59" height="2.84" fill="#000"/>
<rect x="697.38" y="680.37" width="2.84" height="11.59" fill="#000"/>
<rect x="713.61" y="684.75" width="11.59" height="2.84" fill="#000"/>
<rect x="717.98" y="680.37" width="2.84" height="11.59" fill="#000"/>
<line x1="711.51" y1="678.23" x2="707.17" y2="693.77" stroke="#000" stroke-width="2.0999999999999943" stroke-linecap="round"/>
<text x="735.93" y="697.90" font-size="13.29" textLength="35.46" lengthAdjust="spacingAndGlyphs" fill="#1414f5">cAMP</text>
<text x="734.65" y="736.40" font-size="12.94" textLength="34.52" lengthAdjust="spacingAndGlyphs" fill="#1c3ca8">cAMP</text>
<text x="734.10" y="750.80" font-size="13.40" fill="#1c3ca8"><tspan>CFTR</tspan><tspan font-size="13.00" dy="2.90">inh</tspan></text>
<text x="735.34" y="771.80" font-size="13.22" textLength="21.32" lengthAdjust="spacingAndGlyphs" fill="#000">con</text>
<line x1="680.94" y1="765.73" x2="680.94" y2="763.10" stroke="#1414f5" stroke-width="1.1"/>
<line x1="678.94" y1="763.10" x2="682.94" y2="763.10" stroke="#1414f5" stroke-width="1.1"/>
<line x1="692.73" y1="756.02" x2="692.73" y2="753.90" stroke="#1414f5" stroke-width="1.1"/>
<line x1="690.73" y1="753.90" x2="694.73" y2="753.90" stroke="#1414f5" stroke-width="1.1"/>
<line x1="704.52" y1="744.66" x2="704.52" y2="740.20" stroke="#1414f5" stroke-width="1.1"/>
<line x1="702.52" y1="740.20" x2="706.52" y2="740.20" stroke="#1414f5" stroke-width="1.1"/>
<line x1="716.31" y1="729.74" x2="716.31" y2="721.00" stroke="#1414f5" stroke-width="1.1"/>
<line x1="714.31" y1="721.00" x2="718.31" y2="721.00" stroke="#1414f5" stroke-width="1.1"/>
<line x1="728.10" y1="705.23" x2="728.10" y2="688.10" stroke="#1414f5" stroke-width="1.1"/>
<line x1="726.10" y1="688.10" x2="730.10" y2="688.10" stroke="#1414f5" stroke-width="1.1"/>
<line x1="704.52" y1="756.50" x2="704.52" y2="752.60" stroke="#1c3ca8" stroke-width="1.1"/>
<line x1="702.52" y1="752.60" x2="706.52" y2="752.60" stroke="#1c3ca8" stroke-width="1.1"/>
<line x1="716.31" y1="748.09" x2="716.31" y2="740.70" stroke="#1c3ca8" stroke-width="1.1"/>
<line x1="714.31" y1="740.70" x2="718.31" y2="740.70" stroke="#1c3ca8" stroke-width="1.1"/>
<line x1="728.10" y1="734.71" x2="728.10" y2="721.00" stroke="#1c3ca8" stroke-width="1.1"/>
<line x1="726.10" y1="721.00" x2="730.10" y2="721.00" stroke="#1c3ca8" stroke-width="1.1"/>
<line x1="716.31" y1="764.90" x2="716.31" y2="762.30" stroke="#000" stroke-width="1.1"/>
<line x1="714.31" y1="762.30" x2="718.31" y2="762.30" stroke="#000" stroke-width="1.1"/>
<line x1="728.10" y1="763.96" x2="728.10" y2="759.90" stroke="#000" stroke-width="1.1"/>
<line x1="726.10" y1="759.90" x2="730.10" y2="759.90" stroke="#000" stroke-width="1.1"/>
<path d="M610.20,781.00 L621.99,780.18 L633.78,779.47 L645.57,778.40 L657.36,776.98 L669.15,774.85 L680.94,772.24 L692.73,769.64 L704.52,767.63 L716.31,764.90 L728.10,763.96" stroke="#000" stroke-width="1.8" fill="none" stroke-linejoin="round"/>
<circle cx="610.20" cy="781.00" r="2.3" fill="#000"/>
<circle cx="621.99" cy="780.18" r="2.3" fill="#000"/>
<circle cx="633.78" cy="779.47" r="2.3" fill="#000"/>
<circle cx="645.57" cy="778.40" r="2.3" fill="#000"/>
<circle cx="657.36" cy="776.98" r="2.3" fill="#000"/>
<circle cx="669.15" cy="774.85" r="2.3" fill="#000"/>
<circle cx="680.94" cy="772.24" r="2.3" fill="#000"/>
<circle cx="692.73" cy="769.64" r="2.3" fill="#000"/>
<circle cx="704.52" cy="767.63" r="2.3" fill="#000"/>
<circle cx="716.31" cy="764.90" r="2.3" fill="#000"/>
<circle cx="728.10" cy="763.96" r="2.3" fill="#000"/>
<path d="M610.20,790.71 L621.99,788.11 L633.78,785.50 L645.57,782.31 L657.36,778.87 L669.15,773.55 L680.94,769.64 L692.73,763.13 L704.52,756.50 L716.31,748.09 L728.10,734.71" stroke="#1c3ca8" stroke-width="1.8" fill="none" stroke-linejoin="round"/>
<circle cx="610.20" cy="790.71" r="2.3" fill="#1c3ca8"/>
<circle cx="621.99" cy="788.11" r="2.3" fill="#1c3ca8"/>
<circle cx="633.78" cy="785.50" r="2.3" fill="#1c3ca8"/>
<circle cx="645.57" cy="782.31" r="2.3" fill="#1c3ca8"/>
<circle cx="657.36" cy="778.87" r="2.3" fill="#1c3ca8"/>
<circle cx="669.15" cy="773.55" r="2.3" fill="#1c3ca8"/>
<circle cx="680.94" cy="769.64" r="2.3" fill="#1c3ca8"/>
<circle cx="692.73" cy="763.13" r="2.3" fill="#1c3ca8"/>
<circle cx="704.52" cy="756.50" r="2.3" fill="#1c3ca8"/>
<circle cx="716.31" cy="748.09" r="2.3" fill="#1c3ca8"/>
<circle cx="728.10" cy="734.71" r="2.3" fill="#1c3ca8"/>
<path d="M610.20,790.71 L621.99,788.11 L633.78,785.50 L645.57,782.31 L657.36,778.87 L669.15,773.07 L680.94,765.73 L692.73,756.02 L704.52,744.66 L716.31,729.74 L728.10,705.23" stroke="#1414f5" stroke-width="1.8" fill="none" stroke-linejoin="round"/>
<circle cx="610.20" cy="790.71" r="2.3" fill="#1414f5"/>
<circle cx="621.99" cy="788.11" r="2.3" fill="#1414f5"/>
<circle cx="633.78" cy="785.50" r="2.3" fill="#1414f5"/>
<circle cx="645.57" cy="782.31" r="2.3" fill="#1414f5"/>
<circle cx="657.36" cy="778.87" r="2.3" fill="#1414f5"/>
<circle cx="669.15" cy="773.07" r="2.3" fill="#1414f5"/>
<circle cx="680.94" cy="765.73" r="2.3" fill="#1414f5"/>
<circle cx="692.73" cy="756.02" r="2.3" fill="#1414f5"/>
<circle cx="704.52" cy="744.66" r="2.3" fill="#1414f5"/>
<circle cx="716.31" cy="729.74" r="2.3" fill="#1414f5"/>
<circle cx="728.10" cy="705.23" r="2.3" fill="#1414f5"/>
<text x="681.20" y="765.84" font-size="16.05" fill="#111" text-anchor="middle">*</text>
<text x="693.00" y="755.34" font-size="16.05" fill="#111" text-anchor="middle">*</text>
<text x="704.80" y="740.14" font-size="16.05" fill="#111" text-anchor="middle">*</text>
<text x="716.40" y="714.04" font-size="16.05" fill="#111" text-anchor="middle">*</text>
<text x="728.60" y="667.24" font-size="16.05" fill="#111" text-anchor="middle">*</text>
<text x="610.20" y="807.94" font-size="16.05" fill="#111" text-anchor="middle">*</text>
<text x="622.00" y="804.04" font-size="16.05" fill="#111" text-anchor="middle">*</text>
<text x="633.80" y="801.34" font-size="16.05" fill="#111" text-anchor="middle">*</text>
<text x="645.60" y="797.44" font-size="16.05" fill="#111" text-anchor="middle">*</text>
<text x="411.41" y="839.12" font-size="25.00" textLength="16.63" lengthAdjust="spacingAndGlyphs" font-weight="bold" fill="#000">q</text>
<line x1="483.25" y1="832.95" x2="483.25" y2="927.05" stroke="#111" stroke-width="1.6"/>
<line x1="473.75" y1="833.75" x2="483.25" y2="833.75" stroke="#111" stroke-width="1.6"/>
<text x="442.53" y="837.94" font-size="12.00" textLength="26.70" lengthAdjust="spacingAndGlyphs" fill="#000">2000</text>
<line x1="473.75" y1="852.25" x2="483.25" y2="852.25" stroke="#111" stroke-width="1.6"/>
<text x="442.53" y="856.44" font-size="12.00" textLength="26.70" lengthAdjust="spacingAndGlyphs" fill="#000">1600</text>
<line x1="473.75" y1="870.75" x2="483.25" y2="870.75" stroke="#111" stroke-width="1.6"/>
<text x="442.53" y="874.94" font-size="12.00" textLength="26.70" lengthAdjust="spacingAndGlyphs" fill="#000">1200</text>
<line x1="473.75" y1="889.25" x2="483.25" y2="889.25" stroke="#111" stroke-width="1.6"/>
<text x="449.19" y="893.44" font-size="12.00" textLength="20.02" lengthAdjust="spacingAndGlyphs" fill="#000">800</text>
<line x1="473.75" y1="907.75" x2="483.25" y2="907.75" stroke="#111" stroke-width="1.6"/>
<text x="449.19" y="911.94" font-size="12.00" textLength="20.02" lengthAdjust="spacingAndGlyphs" fill="#000">400</text>
<line x1="473.75" y1="926.25" x2="483.25" y2="926.25" stroke="#111" stroke-width="1.6"/>
<text x="462.54" y="930.44" font-size="12.00" textLength="6.67" lengthAdjust="spacingAndGlyphs" fill="#000">0</text>
<text transform="rotate(-90)" x="-906.02" y="438.51" font-size="13.58" textLength="52.83" lengthAdjust="spacingAndGlyphs" fill="#000">I (pA/pF)</text>
<text x="494.17" y="844.09" font-size="13.88" textLength="24.68" lengthAdjust="spacingAndGlyphs" fill="#000">(10)</text>
<rect x="525.10" y="848.69" width="6.27" height="3.17" fill="#000"/>
<rect x="539.73" y="848.69" width="6.27" height="3.17" fill="#000"/>
<line x1="538.27" y1="844.68" x2="534.19" y2="860.22" stroke="#000" stroke-width="1.9204999999999923" stroke-linecap="round"/>
<line x1="497.00" y1="904.60" x2="567.50" y2="904.60" stroke="#000" stroke-width="1.3"/>
<line x1="497.00" y1="905.60" x2="567.50" y2="906.40" stroke="#000" stroke-width="1.3"/>
<line x1="497.00" y1="919.30" x2="567.50" y2="898.40" stroke="#000" stroke-width="1.3"/>
<line x1="497.00" y1="921.60" x2="567.50" y2="905.40" stroke="#000" stroke-width="1.3"/>
<line x1="497.00" y1="914.00" x2="567.50" y2="916.10" stroke="#000" stroke-width="1.3"/>
<line x1="497.00" y1="919.30" x2="567.50" y2="921.90" stroke="#000" stroke-width="1.3"/>
<line x1="497.00" y1="921.90" x2="567.50" y2="925.00" stroke="#000" stroke-width="1.3"/>
<line x1="497.00" y1="925.00" x2="567.50" y2="925.00" stroke="#000" stroke-width="1.3"/>
<line x1="497.00" y1="923.00" x2="567.50" y2="923.20" stroke="#000" stroke-width="1.3"/>
<line x1="497.00" y1="924.00" x2="567.50" y2="921.00" stroke="#000" stroke-width="1.3"/>
<circle cx="497.00" cy="904.60" r="3.6" fill="#1414f5"/>
<circle cx="567.50" cy="904.60" r="3.6" fill="#1414f5"/>
<circle cx="497.00" cy="905.60" r="3.6" fill="#1414f5"/>
<circle cx="567.50" cy="906.40" r="3.6" fill="#1414f5"/>
<circle cx="497.00" cy="919.30" r="3.6" fill="#1414f5"/>
<circle cx="567.50" cy="898.40" r="3.6" fill="#1414f5"/>
<circle cx="497.00" cy="921.60" r="3.6" fill="#1414f5"/>
<circle cx="567.50" cy="905.40" r="3.6" fill="#1414f5"/>
<circle cx="497.00" cy="914.00" r="3.6" fill="#1414f5"/>
<circle cx="567.50" cy="916.10" r="3.6" fill="#1414f5"/>
<circle cx="497.00" cy="919.30" r="3.6" fill="#1414f5"/>
<circle cx="567.50" cy="921.90" r="3.6" fill="#1414f5"/>
<circle cx="497.00" cy="921.90" r="3.6" fill="#1414f5"/>
<circle cx="567.50" cy="925.00" r="3.6" fill="#1414f5"/>
<circle cx="497.00" cy="925.00" r="3.6" fill="#1414f5"/>
<circle cx="567.50" cy="925.00" r="3.6" fill="#1414f5"/>
<circle cx="497.00" cy="923.00" r="3.6" fill="#1414f5"/>
<circle cx="567.50" cy="923.20" r="3.6" fill="#1414f5"/>
<circle cx="497.00" cy="924.00" r="3.6" fill="#1414f5"/>
<circle cx="567.50" cy="921.00" r="3.6" fill="#1414f5"/>
<text transform="translate(501.20,943.20) rotate(-45)" font-size="13.60" fill="#000" text-anchor="end">con</text>
<text transform="translate(575.50,939.40) rotate(-45)" font-size="13.60" fill="#1414f5" text-anchor="end">cAMP</text>
<text x="578.07" y="836.32" font-size="25.00" textLength="11.55" lengthAdjust="spacingAndGlyphs" font-weight="bold" fill="#000">r</text>
<line x1="668.10" y1="832.88" x2="668.10" y2="952.88" stroke="#111" stroke-width="1.6"/>
<line x1="663.10" y1="833.68" x2="668.10" y2="833.68" stroke="#111" stroke-width="1.6"/>
<text x="651.62" y="837.87" font-size="12.00" textLength="6.67" lengthAdjust="spacingAndGlyphs" fill="#000">8</text>
<line x1="663.10" y1="857.36" x2="668.10" y2="857.36" stroke="#111" stroke-width="1.6"/>
<text x="651.65" y="861.55" font-size="12.00" textLength="6.67" lengthAdjust="spacingAndGlyphs" fill="#000">6</text>
<line x1="663.10" y1="881.04" x2="668.10" y2="881.04" stroke="#111" stroke-width="1.6"/>
<text x="651.47" y="885.23" font-size="12.00" textLength="6.67" lengthAdjust="spacingAndGlyphs" fill="#000">4</text>
<line x1="663.10" y1="904.72" x2="668.10" y2="904.72" stroke="#111" stroke-width="1.6"/>
<text x="651.71" y="908.91" font-size="12.00" textLength="6.67" lengthAdjust="spacingAndGlyphs" fill="#000">2</text>
<line x1="663.10" y1="952.08" x2="668.10" y2="952.08" stroke="#111" stroke-width="1.6"/>
<text x="647.72" y="956.26" font-size="12.00" textLength="10.67" lengthAdjust="spacingAndGlyphs" fill="#000">-2</text>
<line x1="663.10" y1="928.40" x2="668.10" y2="928.40" stroke="#111" stroke-width="1.6"/>
<text x="651.59" y="932.59" font-size="12.00" textLength="6.67" lengthAdjust="spacingAndGlyphs" fill="#000">0</text>
<line x1="608.40" y1="928.40" x2="726.00" y2="928.40" stroke="#111" stroke-width="1.8"/>
<line x1="608.40" y1="928.40" x2="608.40" y2="932.40" stroke="#111" stroke-width="1.5"/>
<line x1="620.16" y1="928.40" x2="620.16" y2="932.40" stroke="#111" stroke-width="1.5"/>
<line x1="631.92" y1="928.40" x2="631.92" y2="932.40" stroke="#111" stroke-width="1.5"/>
<line x1="643.68" y1="928.40" x2="643.68" y2="932.40" stroke="#111" stroke-width="1.5"/>
<line x1="655.44" y1="928.40" x2="655.44" y2="932.40" stroke="#111" stroke-width="1.5"/>
<line x1="667.20" y1="928.40" x2="667.20" y2="932.40" stroke="#111" stroke-width="1.5"/>
<line x1="678.96" y1="928.40" x2="678.96" y2="932.40" stroke="#111" stroke-width="1.5"/>
<line x1="690.72" y1="928.40" x2="690.72" y2="932.40" stroke="#111" stroke-width="1.5"/>
<line x1="702.48" y1="928.40" x2="702.48" y2="932.40" stroke="#111" stroke-width="1.5"/>
<line x1="714.24" y1="928.40" x2="714.24" y2="932.40" stroke="#111" stroke-width="1.5"/>
<line x1="726.00" y1="928.40" x2="726.00" y2="932.40" stroke="#111" stroke-width="1.5"/>
<text x="598.49" y="924.10" font-size="11.98" textLength="23.98" lengthAdjust="spacingAndGlyphs" fill="#000">-100</text>
<text x="715.28" y="946.00" font-size="12.22" textLength="20.39" lengthAdjust="spacingAndGlyphs" fill="#000">100</text>
<text x="680.67" y="953.72" font-size="12.06" textLength="34.16" lengthAdjust="spacingAndGlyphs" fill="#000">V(mV)</text>
<text transform="rotate(-90)" x="-853.77" y="683.17" font-size="13.04" textLength="28.25" lengthAdjust="spacingAndGlyphs" fill="#000">I(nA)</text>
<text x="621.26" y="848.56" font-size="13.94" textLength="24.78" lengthAdjust="spacingAndGlyphs" fill="#000">(10)</text>
<rect x="696.10" y="848.70" width="6.21" height="3.25" fill="#000"/>
<rect x="710.59" y="848.70" width="6.21" height="3.25" fill="#000"/>
<line x1="709.14" y1="844.59" x2="705.10" y2="860.51" stroke="#000" stroke-width="1.9665000000000028" stroke-linecap="round"/>
<text x="734.13" y="896.00" font-size="13.49" textLength="35.97" lengthAdjust="spacingAndGlyphs" fill="#1414f5">cAMP</text>
<text x="734.14" y="909.90" font-size="13.26" textLength="35.35" lengthAdjust="spacingAndGlyphs" fill="#1c3ca8">cAMP</text>
<text x="734.10" y="924.30" font-size="13.40" fill="#1c3ca8"><tspan>CFTR</tspan><tspan font-size="13.00" dy="2.90">inh</tspan></text>
<text x="734.59" y="932.80" font-size="14.29" textLength="23.03" lengthAdjust="spacingAndGlyphs" fill="#000">con</text>
<line x1="678.96" y1="921.50" x2="678.96" y2="918.30" stroke="#1414f5" stroke-width="1.1"/>
<line x1="676.96" y1="918.30" x2="680.96" y2="918.30" stroke="#1414f5" stroke-width="1.1"/>
<line x1="690.72" y1="918.90" x2="690.72" y2="915.70" stroke="#1414f5" stroke-width="1.1"/>
<line x1="688.72" y1="915.70" x2="692.72" y2="915.70" stroke="#1414f5" stroke-width="1.1"/>
<line x1="702.48" y1="917.00" x2="702.48" y2="913.80" stroke="#1414f5" stroke-width="1.1"/>
<line x1="700.48" y1="913.80" x2="704.48" y2="913.80" stroke="#1414f5" stroke-width="1.1"/>
<line x1="714.24" y1="914.40" x2="714.24" y2="911.20" stroke="#1414f5" stroke-width="1.1"/>
<line x1="712.24" y1="911.20" x2="716.24" y2="911.20" stroke="#1414f5" stroke-width="1.1"/>
<line x1="726.00" y1="913.10" x2="726.00" y2="909.90" stroke="#1414f5" stroke-width="1.1"/>
<line x1="724.00" y1="909.90" x2="728.00" y2="909.90" stroke="#1414f5" stroke-width="1.1"/>
<path d="M608.40,929.40 L620.16,928.90 L631.92,928.60 L643.68,928.20 L655.44,927.20 L667.20,925.50 L678.96,924.10 L690.72,923.60 L702.48,922.30 L714.24,921.50 L726.00,920.20" stroke="#000" stroke-width="1.8" fill="none" stroke-linejoin="round"/>
<circle cx="608.40" cy="929.40" r="2.3" fill="#000"/>
<circle cx="620.16" cy="928.90" r="2.3" fill="#000"/>
<circle cx="631.92" cy="928.60" r="2.3" fill="#000"/>
<circle cx="643.68" cy="928.20" r="2.3" fill="#000"/>
<circle cx="655.44" cy="927.20" r="2.3" fill="#000"/>
<circle cx="667.20" cy="925.50" r="2.3" fill="#000"/>
<circle cx="678.96" cy="924.10" r="2.3" fill="#000"/>
<circle cx="690.72" cy="923.60" r="2.3" fill="#000"/>
<circle cx="702.48" cy="922.30" r="2.3" fill="#000"/>
<circle cx="714.24" cy="921.50" r="2.3" fill="#000"/>
<circle cx="726.00" cy="920.20" r="2.3" fill="#000"/>
<path d="M608.40,931.50 L620.16,930.20 L631.92,929.40 L643.68,928.90 L655.44,927.00 L667.20,924.90 L678.96,922.30 L690.72,920.20 L702.48,918.90 L714.24,917.00 L726.00,915.70" stroke="#1c3ca8" stroke-width="1.8" fill="none" stroke-linejoin="round"/>
<circle cx="608.40" cy="931.50" r="2.3" fill="#1c3ca8"/>
<circle cx="620.16" cy="930.20" r="2.3" fill="#1c3ca8"/>
<circle cx="631.92" cy="929.40" r="2.3" fill="#1c3ca8"/>
<circle cx="643.68" cy="928.90" r="2.3" fill="#1c3ca8"/>
<circle cx="655.44" cy="927.00" r="2.3" fill="#1c3ca8"/>
<circle cx="667.20" cy="924.90" r="2.3" fill="#1c3ca8"/>
<circle cx="678.96" cy="922.30" r="2.3" fill="#1c3ca8"/>
<circle cx="690.72" cy="920.20" r="2.3" fill="#1c3ca8"/>
<circle cx="702.48" cy="918.90" r="2.3" fill="#1c3ca8"/>
<circle cx="714.24" cy="917.00" r="2.3" fill="#1c3ca8"/>
<circle cx="726.00" cy="915.70" r="2.3" fill="#1c3ca8"/>
<path d="M608.40,931.50 L620.16,930.20 L631.92,929.40 L643.68,928.90 L655.44,927.00 L667.20,924.90 L678.96,921.50 L690.72,918.90 L702.48,917.00 L714.24,914.40 L726.00,913.10" stroke="#1414f5" stroke-width="1.8" fill="none" stroke-linejoin="round"/>
<circle cx="608.40" cy="931.50" r="2.3" fill="#1414f5"/>
<circle cx="620.16" cy="930.20" r="2.3" fill="#1414f5"/>
<circle cx="631.92" cy="929.40" r="2.3" fill="#1414f5"/>
<circle cx="643.68" cy="928.90" r="2.3" fill="#1414f5"/>
<circle cx="655.44" cy="927.00" r="2.3" fill="#1414f5"/>
<circle cx="667.20" cy="924.90" r="2.3" fill="#1414f5"/>
<circle cx="678.96" cy="921.50" r="2.3" fill="#1414f5"/>
<circle cx="690.72" cy="918.90" r="2.3" fill="#1414f5"/>
<circle cx="702.48" cy="917.00" r="2.3" fill="#1414f5"/>
<circle cx="714.24" cy="914.40" r="2.3" fill="#1414f5"/>
<circle cx="726.00" cy="913.10" r="2.3" fill="#1414f5"/>
<text x="680.00" y="918.30" font-size="11.47" fill="#222" text-anchor="middle">#</text>
<text x="692.00" y="914.40" font-size="11.47" fill="#222" text-anchor="middle">#</text>
<text x="703.70" y="911.70" font-size="11.47" fill="#222" text-anchor="middle">#</text>
<text x="715.50" y="908.60" font-size="11.47" fill="#222" text-anchor="middle">#</text>
<text x="727.30" y="906.50" font-size="11.47" fill="#222" text-anchor="middle">#</text>
<text x="608.60" y="947.20" font-size="11.47" fill="#222" text-anchor="middle">#</text>
<text x="620.50" y="945.90" font-size="11.47" fill="#222" text-anchor="middle">#</text>
<text x="632.20" y="944.60" font-size="11.47" fill="#222" text-anchor="middle">#</text>
</svg></body></html>
